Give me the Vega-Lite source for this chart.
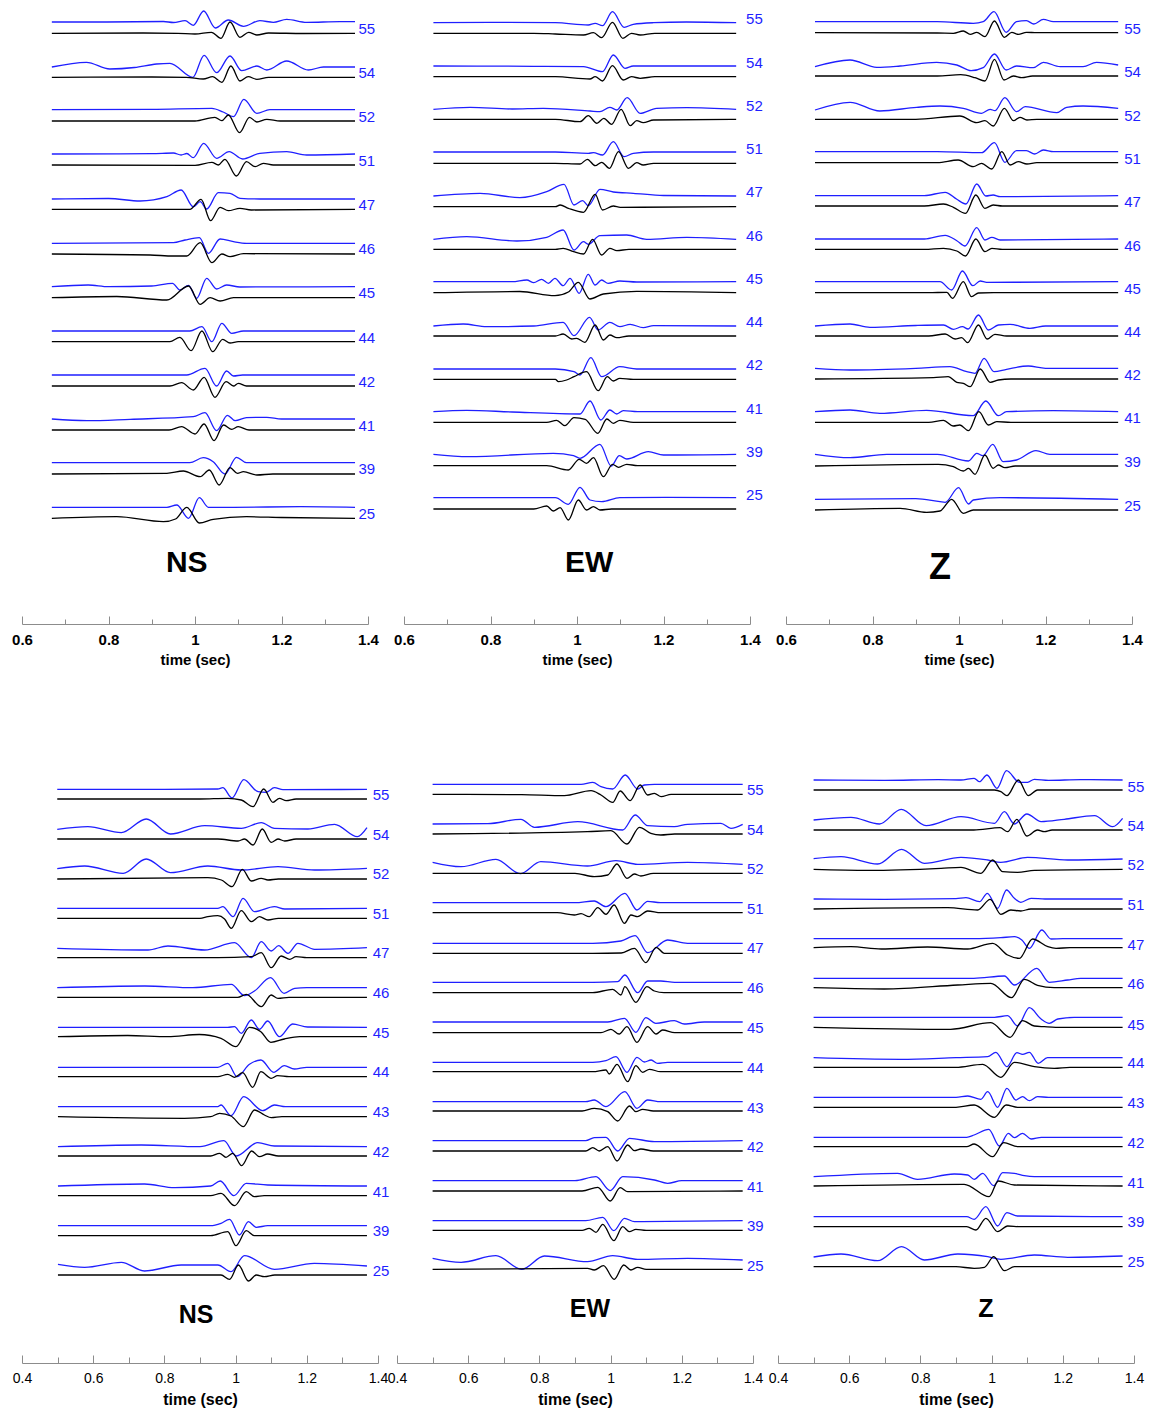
{
"$schema":"https://vega.github.io/schema/vega-lite/v6.json",
"padding":{"left":11,"top":0,"right":5,"bottom":5},
"config":{"view":{"stroke":null},"font":"Liberation Sans","axis":{"labelFont":"Liberation Sans","titleFont":"Liberation Sans"}},
"datasets":{
"tl":[
{"s":"55","c":"b","t":0.669,"y":22},{"s":"55","c":"b","t":0.796,"y":22},{"s":"55","c":"b","t":0.927,"y":21.5},{"s":"55","c":"b","t":0.95,"y":22.5},{"s":"55","c":"b","t":0.977,"y":20.7},{"s":"55","c":"b","t":0.996,"y":25.3},{"s":"55","c":"b","t":1.02,"y":11},{"s":"55","c":"b","t":1.047,"y":28},{"s":"55","c":"b","t":1.077,"y":20},{"s":"55","c":"b","t":1.112,"y":26.3},{"s":"55","c":"b","t":1.15,"y":20.7},{"s":"55","c":"b","t":1.181,"y":22.3},{"s":"55","c":"b","t":1.212,"y":19.3},{"s":"55","c":"b","t":1.258,"y":22.3},{"s":"55","c":"b","t":1.335,"y":21.7},{"s":"55","c":"b","t":1.37,"y":21.7},
{"s":"55","c":"k","t":0.669,"y":33.3},{"s":"55","c":"k","t":0.88,"y":33},{"s":"55","c":"k","t":0.96,"y":33.3},{"s":"55","c":"k","t":1.0,"y":34},{"s":"55","c":"k","t":1.038,"y":32.3},{"s":"55","c":"k","t":1.06,"y":38.3},{"s":"55","c":"k","t":1.081,"y":22},{"s":"55","c":"k","t":1.104,"y":37.3},{"s":"55","c":"k","t":1.124,"y":32.3},{"s":"55","c":"k","t":1.143,"y":35},{"s":"55","c":"k","t":1.17,"y":33},{"s":"55","c":"k","t":1.25,"y":33.5},{"s":"55","c":"k","t":1.37,"y":33.3},
{"s":"54","c":"b","t":0.669,"y":67},{"s":"54","c":"b","t":0.749,"y":62.3},{"s":"54","c":"b","t":0.803,"y":69},{"s":"54","c":"b","t":0.86,"y":67.5},{"s":"54","c":"b","t":0.911,"y":64},{"s":"54","c":"b","t":0.942,"y":63.3},{"s":"54","c":"b","t":0.995,"y":77.3},{"s":"54","c":"b","t":1.021,"y":55.3},{"s":"54","c":"b","t":1.05,"y":72.7},{"s":"54","c":"b","t":1.081,"y":56},{"s":"54","c":"b","t":1.108,"y":70.7},{"s":"54","c":"b","t":1.143,"y":66},{"s":"54","c":"b","t":1.166,"y":70},{"s":"54","c":"b","t":1.212,"y":61},{"s":"54","c":"b","t":1.262,"y":70},{"s":"54","c":"b","t":1.297,"y":67},{"s":"54","c":"b","t":1.37,"y":67},
{"s":"54","c":"k","t":0.669,"y":77.3},{"s":"54","c":"k","t":0.9,"y":77},{"s":"54","c":"k","t":0.98,"y":77.3},{"s":"54","c":"k","t":1.019,"y":79},{"s":"54","c":"k","t":1.041,"y":76.7},{"s":"54","c":"k","t":1.062,"y":82.3},{"s":"54","c":"k","t":1.083,"y":66},{"s":"54","c":"k","t":1.104,"y":81},{"s":"54","c":"k","t":1.123,"y":76.7},{"s":"54","c":"k","t":1.143,"y":79.3},{"s":"54","c":"k","t":1.17,"y":77.3},{"s":"54","c":"k","t":1.37,"y":77.3},
{"s":"52","c":"b","t":0.669,"y":109.7},{"s":"52","c":"b","t":0.9,"y":109.3},{"s":"52","c":"b","t":1.039,"y":108.3},{"s":"52","c":"b","t":1.065,"y":112},{"s":"52","c":"b","t":1.089,"y":116.7},{"s":"52","c":"b","t":1.113,"y":99.3},{"s":"52","c":"b","t":1.143,"y":113.3},{"s":"52","c":"b","t":1.173,"y":109.7},{"s":"52","c":"b","t":1.37,"y":109.7},
{"s":"52","c":"k","t":0.669,"y":121},{"s":"52","c":"k","t":1.0,"y":121},{"s":"52","c":"k","t":1.046,"y":117.3},{"s":"52","c":"k","t":1.062,"y":120.7},{"s":"52","c":"k","t":1.077,"y":115},{"s":"52","c":"k","t":1.103,"y":132.7},{"s":"52","c":"k","t":1.126,"y":117.3},{"s":"52","c":"k","t":1.143,"y":122},{"s":"52","c":"k","t":1.166,"y":119.3},{"s":"52","c":"k","t":1.197,"y":121},{"s":"52","c":"k","t":1.37,"y":121},
{"s":"51","c":"b","t":0.669,"y":154},{"s":"51","c":"b","t":0.9,"y":153.7},{"s":"51","c":"b","t":0.95,"y":153},{"s":"51","c":"b","t":0.968,"y":155},{"s":"51","c":"b","t":0.981,"y":153.5},{"s":"51","c":"b","t":0.996,"y":157.7},{"s":"51","c":"b","t":1.02,"y":143.3},{"s":"51","c":"b","t":1.05,"y":158.3},{"s":"51","c":"b","t":1.079,"y":151.7},{"s":"51","c":"b","t":1.11,"y":159},{"s":"51","c":"b","t":1.15,"y":153.3},{"s":"51","c":"b","t":1.212,"y":151.7},{"s":"51","c":"b","t":1.258,"y":155},{"s":"51","c":"b","t":1.37,"y":154},
{"s":"51","c":"k","t":0.669,"y":165},{"s":"51","c":"k","t":1.0,"y":165.3},{"s":"51","c":"k","t":1.039,"y":162.3},{"s":"51","c":"k","t":1.054,"y":165},{"s":"51","c":"k","t":1.069,"y":159.3},{"s":"51","c":"k","t":1.096,"y":176},{"s":"51","c":"k","t":1.119,"y":161.7},{"s":"51","c":"k","t":1.139,"y":166.7},{"s":"51","c":"k","t":1.158,"y":163.3},{"s":"51","c":"k","t":1.181,"y":165},{"s":"51","c":"k","t":1.37,"y":165},
{"s":"47","c":"b","t":0.669,"y":199},{"s":"47","c":"b","t":0.8,"y":198.5},{"s":"47","c":"b","t":0.873,"y":201},{"s":"47","c":"b","t":0.935,"y":196.7},{"s":"47","c":"b","t":0.968,"y":190},{"s":"47","c":"b","t":0.996,"y":206.7},{"s":"47","c":"b","t":1.012,"y":201.7},{"s":"47","c":"b","t":1.027,"y":209},{"s":"47","c":"b","t":1.054,"y":192.7},{"s":"47","c":"b","t":1.081,"y":193.3},{"s":"47","c":"b","t":1.104,"y":198.3},{"s":"47","c":"b","t":1.15,"y":199},{"s":"47","c":"b","t":1.37,"y":199},
{"s":"47","c":"k","t":0.669,"y":209.3},{"s":"47","c":"k","t":0.988,"y":209.3},{"s":"47","c":"k","t":1.014,"y":199.3},{"s":"47","c":"k","t":1.036,"y":220.7},{"s":"47","c":"k","t":1.058,"y":207.3},{"s":"47","c":"k","t":1.077,"y":210.7},{"s":"47","c":"k","t":1.104,"y":208.3},{"s":"47","c":"k","t":1.13,"y":210},{"s":"47","c":"k","t":1.37,"y":209.3},
{"s":"46","c":"b","t":0.669,"y":243.3},{"s":"46","c":"b","t":0.95,"y":242.7},{"s":"46","c":"b","t":0.977,"y":240},{"s":"46","c":"b","t":1.01,"y":237.7},{"s":"46","c":"b","t":1.031,"y":253.3},{"s":"46","c":"b","t":1.058,"y":239},{"s":"46","c":"b","t":1.089,"y":241.7},{"s":"46","c":"b","t":1.119,"y":243.3},{"s":"46","c":"b","t":1.37,"y":243.3},
{"s":"46","c":"k","t":0.669,"y":254},{"s":"46","c":"k","t":0.896,"y":255},{"s":"46","c":"k","t":0.95,"y":256},{"s":"46","c":"k","t":0.981,"y":256},{"s":"46","c":"k","t":1.012,"y":242.7},{"s":"46","c":"k","t":1.039,"y":262.7},{"s":"46","c":"k","t":1.062,"y":254},{"s":"46","c":"k","t":1.081,"y":256.7},{"s":"46","c":"k","t":1.112,"y":253.7},{"s":"46","c":"k","t":1.37,"y":254},
{"s":"45","c":"b","t":0.669,"y":286.7},{"s":"45","c":"b","t":0.753,"y":285},{"s":"45","c":"b","t":0.8,"y":286.7},{"s":"45","c":"b","t":0.9,"y":286},{"s":"45","c":"b","t":0.948,"y":283.3},{"s":"45","c":"b","t":0.965,"y":290},{"s":"45","c":"b","t":0.985,"y":285.3},{"s":"45","c":"b","t":1.004,"y":298.3},{"s":"45","c":"b","t":1.027,"y":278.3},{"s":"45","c":"b","t":1.05,"y":289},{"s":"45","c":"b","t":1.073,"y":285},{"s":"45","c":"b","t":1.104,"y":287},{"s":"45","c":"b","t":1.37,"y":286.7},
{"s":"45","c":"k","t":0.669,"y":297.7},{"s":"45","c":"k","t":0.819,"y":296.5},{"s":"45","c":"k","t":0.935,"y":300},{"s":"45","c":"k","t":0.985,"y":286},{"s":"45","c":"k","t":1.012,"y":304.3},{"s":"45","c":"k","t":1.035,"y":297.7},{"s":"45","c":"k","t":1.058,"y":301},{"s":"45","c":"k","t":1.089,"y":297.7},{"s":"45","c":"k","t":1.37,"y":297.7},
{"s":"44","c":"b","t":0.669,"y":331},{"s":"44","c":"b","t":0.988,"y":331},{"s":"44","c":"b","t":1.016,"y":326.7},{"s":"44","c":"b","t":1.039,"y":341.7},{"s":"44","c":"b","t":1.062,"y":323.3},{"s":"44","c":"b","t":1.085,"y":333.3},{"s":"44","c":"b","t":1.112,"y":331},{"s":"44","c":"b","t":1.37,"y":331},
{"s":"44","c":"k","t":0.669,"y":341.7},{"s":"44","c":"k","t":0.942,"y":341.7},{"s":"44","c":"k","t":0.965,"y":337.3},{"s":"44","c":"k","t":0.991,"y":350.7},{"s":"44","c":"k","t":1.016,"y":331},{"s":"44","c":"k","t":1.041,"y":351.7},{"s":"44","c":"k","t":1.064,"y":339.3},{"s":"44","c":"k","t":1.081,"y":343},{"s":"44","c":"k","t":1.1,"y":341.7},{"s":"44","c":"k","t":1.37,"y":341.7},
{"s":"42","c":"b","t":0.669,"y":375},{"s":"42","c":"b","t":0.981,"y":375},{"s":"42","c":"b","t":1.023,"y":368.3},{"s":"42","c":"b","t":1.05,"y":386},{"s":"42","c":"b","t":1.073,"y":371},{"s":"42","c":"b","t":1.089,"y":376},{"s":"42","c":"b","t":1.11,"y":375},{"s":"42","c":"b","t":1.37,"y":375},
{"s":"42","c":"k","t":0.669,"y":386},{"s":"42","c":"k","t":0.942,"y":386},{"s":"42","c":"k","t":0.969,"y":382.7},{"s":"42","c":"k","t":0.996,"y":390},{"s":"42","c":"k","t":1.021,"y":377.3},{"s":"42","c":"k","t":1.046,"y":397.3},{"s":"42","c":"k","t":1.072,"y":381.7},{"s":"42","c":"k","t":1.089,"y":386},{"s":"42","c":"k","t":1.1,"y":383.3},{"s":"42","c":"k","t":1.119,"y":386},{"s":"42","c":"k","t":1.37,"y":386},
{"s":"41","c":"b","t":0.669,"y":419},{"s":"41","c":"b","t":0.75,"y":420.7},{"s":"41","c":"b","t":0.85,"y":419.3},{"s":"41","c":"b","t":0.996,"y":416.7},{"s":"41","c":"b","t":1.023,"y":412.7},{"s":"41","c":"b","t":1.05,"y":430.7},{"s":"41","c":"b","t":1.075,"y":415.3},{"s":"41","c":"b","t":1.093,"y":420.7},{"s":"41","c":"b","t":1.119,"y":417.7},{"s":"41","c":"b","t":1.166,"y":417.3},{"s":"41","c":"b","t":1.2,"y":419},{"s":"41","c":"b","t":1.37,"y":419},
{"s":"41","c":"k","t":0.669,"y":430},{"s":"41","c":"k","t":0.94,"y":430},{"s":"41","c":"k","t":0.969,"y":426.7},{"s":"41","c":"k","t":1.0,"y":434},{"s":"41","c":"k","t":1.021,"y":424},{"s":"41","c":"k","t":1.044,"y":440.7},{"s":"41","c":"k","t":1.066,"y":425},{"s":"41","c":"k","t":1.085,"y":429.3},{"s":"41","c":"k","t":1.1,"y":426.7},{"s":"41","c":"k","t":1.125,"y":430},{"s":"41","c":"k","t":1.37,"y":430},
{"s":"39","c":"b","t":0.669,"y":462.7},{"s":"39","c":"b","t":0.988,"y":462.7},{"s":"39","c":"b","t":1.019,"y":457.7},{"s":"39","c":"b","t":1.042,"y":461.7},{"s":"39","c":"b","t":1.069,"y":474},{"s":"39","c":"b","t":1.096,"y":457.3},{"s":"39","c":"b","t":1.119,"y":462.7},{"s":"39","c":"b","t":1.37,"y":462.7},
{"s":"39","c":"k","t":0.669,"y":474},{"s":"39","c":"k","t":0.935,"y":473.3},{"s":"39","c":"k","t":0.973,"y":471},{"s":"39","c":"k","t":1.012,"y":476.7},{"s":"39","c":"k","t":1.033,"y":470},{"s":"39","c":"k","t":1.056,"y":485},{"s":"39","c":"k","t":1.081,"y":467.7},{"s":"39","c":"k","t":1.098,"y":473.3},{"s":"39","c":"k","t":1.112,"y":471.7},{"s":"39","c":"k","t":1.143,"y":475},{"s":"39","c":"k","t":1.18,"y":474},{"s":"39","c":"k","t":1.37,"y":474},
{"s":"25","c":"b","t":0.669,"y":507.3},{"s":"25","c":"b","t":0.935,"y":507.3},{"s":"25","c":"b","t":0.958,"y":505},{"s":"25","c":"b","t":0.985,"y":518.3},{"s":"25","c":"b","t":1.01,"y":497.7},{"s":"25","c":"b","t":1.031,"y":507.3},{"s":"25","c":"b","t":1.089,"y":507.3},{"s":"25","c":"b","t":1.245,"y":506.7},{"s":"25","c":"b","t":1.37,"y":507.3},
{"s":"25","c":"k","t":0.669,"y":518.3},{"s":"25","c":"k","t":0.819,"y":516.7},{"s":"25","c":"k","t":0.927,"y":521.7},{"s":"25","c":"k","t":0.955,"y":519},{"s":"25","c":"k","t":0.981,"y":507.3},{"s":"25","c":"k","t":1.01,"y":523},{"s":"25","c":"k","t":1.042,"y":519.3},{"s":"25","c":"k","t":1.119,"y":516.7},{"s":"25","c":"k","t":1.2,"y":517.5},{"s":"25","c":"k","t":1.37,"y":518.3}
],
"tlL":[{"s":"55","y":28.7},{"s":"54","y":72.7},{"s":"52","y":116.7},{"s":"51","y":161},{"s":"47","y":205},{"s":"46","y":249},{"s":"45","y":293.3},{"s":"44","y":337.7},{"s":"42","y":381.7},{"s":"41","y":425.7},{"s":"39","y":469.3},{"s":"25","y":514.3}],
"tm":[
{"s":"55","c":"b","t":0.668,"y":22.7},{"s":"55","c":"b","t":0.8,"y":22.3},{"s":"55","c":"b","t":0.95,"y":22.7},{"s":"55","c":"b","t":1.026,"y":25},{"s":"55","c":"b","t":1.042,"y":23.3},{"s":"55","c":"b","t":1.059,"y":25.7},{"s":"55","c":"b","t":1.082,"y":11.7},{"s":"55","c":"b","t":1.109,"y":27.3},{"s":"55","c":"b","t":1.13,"y":24.3},{"s":"55","c":"b","t":1.177,"y":22.7},{"s":"55","c":"b","t":1.253,"y":22},{"s":"55","c":"b","t":1.368,"y":22.7},
{"s":"55","c":"k","t":0.668,"y":33.3},{"s":"55","c":"k","t":0.9,"y":33.3},{"s":"55","c":"k","t":0.95,"y":34},{"s":"55","c":"k","t":1.015,"y":35},{"s":"55","c":"k","t":1.038,"y":32.7},{"s":"55","c":"k","t":1.057,"y":37.7},{"s":"55","c":"k","t":1.082,"y":22.3},{"s":"55","c":"k","t":1.106,"y":38.3},{"s":"55","c":"k","t":1.126,"y":33.3},{"s":"55","c":"k","t":1.146,"y":35},{"s":"55","c":"k","t":1.18,"y":33.3},{"s":"55","c":"k","t":1.368,"y":33.3},
{"s":"54","c":"b","t":0.668,"y":66},{"s":"54","c":"b","t":0.9,"y":66.3},{"s":"54","c":"b","t":1.015,"y":66.7},{"s":"54","c":"b","t":1.059,"y":71.7},{"s":"54","c":"b","t":1.084,"y":55},{"s":"54","c":"b","t":1.111,"y":68.3},{"s":"54","c":"b","t":1.13,"y":66},{"s":"54","c":"b","t":1.368,"y":66},
{"s":"54","c":"k","t":0.668,"y":76.7},{"s":"54","c":"k","t":0.95,"y":76.7},{"s":"54","c":"k","t":1.03,"y":79},{"s":"54","c":"k","t":1.042,"y":76.7},{"s":"54","c":"k","t":1.059,"y":81},{"s":"54","c":"k","t":1.082,"y":65.7},{"s":"54","c":"k","t":1.107,"y":80},{"s":"54","c":"k","t":1.126,"y":76.7},{"s":"54","c":"k","t":1.146,"y":78.3},{"s":"54","c":"k","t":1.18,"y":76.7},{"s":"54","c":"k","t":1.368,"y":76.7},
{"s":"52","c":"b","t":0.668,"y":109.3},{"s":"52","c":"b","t":0.753,"y":107.3},{"s":"52","c":"b","t":0.85,"y":109},{"s":"52","c":"b","t":0.922,"y":108.3},{"s":"52","c":"b","t":1.03,"y":111},{"s":"52","c":"b","t":1.053,"y":111.7},{"s":"52","c":"b","t":1.076,"y":107.3},{"s":"52","c":"b","t":1.092,"y":110},{"s":"52","c":"b","t":1.116,"y":97.7},{"s":"52","c":"b","t":1.146,"y":113.3},{"s":"52","c":"b","t":1.184,"y":108.3},{"s":"52","c":"b","t":1.254,"y":107.7},{"s":"52","c":"b","t":1.368,"y":109.3},
{"s":"52","c":"k","t":0.668,"y":119.3},{"s":"52","c":"k","t":0.95,"y":119.3},{"s":"52","c":"k","t":1.007,"y":121.7},{"s":"52","c":"k","t":1.026,"y":115.7},{"s":"52","c":"k","t":1.046,"y":123.3},{"s":"52","c":"k","t":1.062,"y":118.3},{"s":"52","c":"k","t":1.08,"y":124.3},{"s":"52","c":"k","t":1.102,"y":109.3},{"s":"52","c":"k","t":1.123,"y":125.7},{"s":"52","c":"k","t":1.138,"y":120.7},{"s":"52","c":"k","t":1.153,"y":122.7},{"s":"52","c":"k","t":1.177,"y":120},{"s":"52","c":"k","t":1.368,"y":119.3},
{"s":"51","c":"b","t":0.668,"y":152},{"s":"51","c":"b","t":0.95,"y":152},{"s":"51","c":"b","t":1.026,"y":153.3},{"s":"51","c":"b","t":1.038,"y":152.7},{"s":"51","c":"b","t":1.059,"y":155},{"s":"51","c":"b","t":1.084,"y":141.7},{"s":"51","c":"b","t":1.109,"y":156.7},{"s":"51","c":"b","t":1.13,"y":153.3},{"s":"51","c":"b","t":1.177,"y":152},{"s":"51","c":"b","t":1.368,"y":152},
{"s":"51","c":"k","t":0.668,"y":163.3},{"s":"51","c":"k","t":0.95,"y":163.3},{"s":"51","c":"k","t":1.007,"y":164},{"s":"51","c":"k","t":1.024,"y":159.3},{"s":"51","c":"k","t":1.042,"y":165.7},{"s":"51","c":"k","t":1.057,"y":162.3},{"s":"51","c":"k","t":1.075,"y":168.3},{"s":"51","c":"k","t":1.096,"y":151.7},{"s":"51","c":"k","t":1.119,"y":168.3},{"s":"51","c":"k","t":1.138,"y":162.7},{"s":"51","c":"k","t":1.153,"y":165},{"s":"51","c":"k","t":1.177,"y":163.3},{"s":"51","c":"k","t":1.368,"y":163.3},
{"s":"47","c":"b","t":0.668,"y":196},{"s":"47","c":"b","t":0.776,"y":193.3},{"s":"47","c":"b","t":0.868,"y":197.7},{"s":"47","c":"b","t":0.93,"y":191.7},{"s":"47","c":"b","t":0.97,"y":184.3},{"s":"47","c":"b","t":0.993,"y":205},{"s":"47","c":"b","t":1.013,"y":200.7},{"s":"47","c":"b","t":1.026,"y":205.7},{"s":"47","c":"b","t":1.053,"y":189.3},{"s":"47","c":"b","t":1.084,"y":192},{"s":"47","c":"b","t":1.13,"y":193.3},{"s":"47","c":"b","t":1.2,"y":195.5},{"s":"47","c":"b","t":1.368,"y":196},
{"s":"47","c":"k","t":0.668,"y":206.7},{"s":"47","c":"k","t":0.95,"y":206.7},{"s":"47","c":"k","t":0.961,"y":205},{"s":"47","c":"k","t":0.98,"y":208.3},{"s":"47","c":"k","t":1.015,"y":212.3},{"s":"47","c":"k","t":1.042,"y":194.3},{"s":"47","c":"k","t":1.059,"y":210},{"s":"47","c":"k","t":1.084,"y":206},{"s":"47","c":"k","t":1.1,"y":207.3},{"s":"47","c":"k","t":1.368,"y":206.7},
{"s":"46","c":"b","t":0.668,"y":239.3},{"s":"46","c":"b","t":0.745,"y":236.7},{"s":"46","c":"b","t":0.861,"y":241},{"s":"46","c":"b","t":0.93,"y":237.3},{"s":"46","c":"b","t":0.968,"y":230},{"s":"46","c":"b","t":0.993,"y":250},{"s":"46","c":"b","t":1.015,"y":241.7},{"s":"46","c":"b","t":1.026,"y":244.3},{"s":"46","c":"b","t":1.053,"y":235.7},{"s":"46","c":"b","t":1.115,"y":235},{"s":"46","c":"b","t":1.161,"y":239.3},{"s":"46","c":"b","t":1.254,"y":237.3},{"s":"46","c":"b","t":1.368,"y":239.3},
{"s":"46","c":"k","t":0.668,"y":249.3},{"s":"46","c":"k","t":0.95,"y":249.3},{"s":"46","c":"k","t":0.968,"y":248.3},{"s":"46","c":"k","t":0.992,"y":251.7},{"s":"46","c":"k","t":1.015,"y":254},{"s":"46","c":"k","t":1.036,"y":239.3},{"s":"46","c":"k","t":1.057,"y":255},{"s":"46","c":"k","t":1.076,"y":248.3},{"s":"46","c":"k","t":1.092,"y":250.7},{"s":"46","c":"k","t":1.12,"y":249.3},{"s":"46","c":"k","t":1.368,"y":249.3},
{"s":"45","c":"b","t":0.668,"y":281.7},{"s":"45","c":"b","t":0.85,"y":281.7},{"s":"45","c":"b","t":0.884,"y":280},{"s":"45","c":"b","t":0.9,"y":282.7},{"s":"45","c":"b","t":0.918,"y":279.3},{"s":"45","c":"b","t":0.934,"y":283.3},{"s":"45","c":"b","t":0.949,"y":278.3},{"s":"45","c":"b","t":0.968,"y":285.7},{"s":"45","c":"b","t":0.984,"y":278.3},{"s":"45","c":"b","t":1.005,"y":293.3},{"s":"45","c":"b","t":1.026,"y":274.3},{"s":"45","c":"b","t":1.042,"y":285},{"s":"45","c":"b","t":1.057,"y":280},{"s":"45","c":"b","t":1.072,"y":283.3},{"s":"45","c":"b","t":1.099,"y":281},{"s":"45","c":"b","t":1.138,"y":282},{"s":"45","c":"b","t":1.368,"y":281.7},
{"s":"45","c":"k","t":0.668,"y":292.7},{"s":"45","c":"k","t":0.868,"y":291.5},{"s":"45","c":"k","t":0.949,"y":295.7},{"s":"45","c":"k","t":0.98,"y":292},{"s":"45","c":"k","t":1.003,"y":282.3},{"s":"45","c":"k","t":1.03,"y":299},{"s":"45","c":"k","t":1.061,"y":294},{"s":"45","c":"k","t":1.138,"y":291.3},{"s":"45","c":"k","t":1.368,"y":292.7},
{"s":"44","c":"b","t":0.668,"y":326},{"s":"44","c":"b","t":0.737,"y":324},{"s":"44","c":"b","t":0.791,"y":326.7},{"s":"44","c":"b","t":0.9,"y":326},{"s":"44","c":"b","t":0.968,"y":322.3},{"s":"44","c":"b","t":0.993,"y":335.7},{"s":"44","c":"b","t":1.029,"y":317.3},{"s":"44","c":"b","t":1.049,"y":330},{"s":"44","c":"b","t":1.076,"y":322.3},{"s":"44","c":"b","t":1.099,"y":326.7},{"s":"44","c":"b","t":1.123,"y":324.3},{"s":"44","c":"b","t":1.153,"y":327.7},{"s":"44","c":"b","t":1.177,"y":325.7},{"s":"44","c":"b","t":1.368,"y":326},
{"s":"44","c":"k","t":0.668,"y":336},{"s":"44","c":"k","t":0.95,"y":336},{"s":"44","c":"k","t":0.968,"y":334},{"s":"44","c":"k","t":0.988,"y":339},{"s":"44","c":"k","t":0.999,"y":338.3},{"s":"44","c":"k","t":1.018,"y":342.3},{"s":"44","c":"k","t":1.042,"y":325},{"s":"44","c":"k","t":1.061,"y":340},{"s":"44","c":"k","t":1.076,"y":335},{"s":"44","c":"k","t":1.092,"y":337.7},{"s":"44","c":"k","t":1.12,"y":336},{"s":"44","c":"k","t":1.368,"y":336},
{"s":"42","c":"b","t":0.668,"y":369},{"s":"42","c":"b","t":0.95,"y":369},{"s":"42","c":"b","t":0.993,"y":371.7},{"s":"42","c":"b","t":1.007,"y":375},{"s":"42","c":"b","t":1.032,"y":357.7},{"s":"42","c":"b","t":1.057,"y":376.7},{"s":"42","c":"b","t":1.099,"y":366.7},{"s":"42","c":"b","t":1.138,"y":369},{"s":"42","c":"b","t":1.368,"y":369},
{"s":"42","c":"k","t":0.668,"y":379.3},{"s":"42","c":"k","t":0.95,"y":379.3},{"s":"42","c":"k","t":0.957,"y":381.7},{"s":"42","c":"k","t":0.976,"y":380},{"s":"42","c":"k","t":0.993,"y":376.7},{"s":"42","c":"k","t":1.022,"y":371.7},{"s":"42","c":"k","t":1.049,"y":390.7},{"s":"42","c":"k","t":1.07,"y":376.7},{"s":"42","c":"k","t":1.084,"y":381},{"s":"42","c":"k","t":1.099,"y":378.3},{"s":"42","c":"k","t":1.13,"y":379.3},{"s":"42","c":"k","t":1.368,"y":379.3},
{"s":"41","c":"b","t":0.668,"y":411.7},{"s":"41","c":"b","t":0.745,"y":410.3},{"s":"41","c":"b","t":0.85,"y":412},{"s":"41","c":"b","t":1.007,"y":414},{"s":"41","c":"b","t":1.03,"y":401},{"s":"41","c":"b","t":1.055,"y":420},{"s":"41","c":"b","t":1.076,"y":410},{"s":"41","c":"b","t":1.092,"y":414},{"s":"41","c":"b","t":1.107,"y":410.7},{"s":"41","c":"b","t":1.14,"y":411.7},{"s":"41","c":"b","t":1.368,"y":411.7},
{"s":"41","c":"k","t":0.668,"y":422.3},{"s":"41","c":"k","t":0.93,"y":422.3},{"s":"41","c":"k","t":0.953,"y":420.3},{"s":"41","c":"k","t":0.972,"y":425.7},{"s":"41","c":"k","t":0.993,"y":417.7},{"s":"41","c":"k","t":1.019,"y":419.3},{"s":"41","c":"k","t":1.048,"y":433.3},{"s":"41","c":"k","t":1.069,"y":419},{"s":"41","c":"k","t":1.084,"y":423.3},{"s":"41","c":"k","t":1.099,"y":420.3},{"s":"41","c":"k","t":1.13,"y":422.3},{"s":"41","c":"k","t":1.368,"y":422.3},
{"s":"39","c":"b","t":0.668,"y":454.3},{"s":"39","c":"b","t":0.749,"y":456.7},{"s":"39","c":"b","t":0.945,"y":453.3},{"s":"39","c":"b","t":0.992,"y":455.7},{"s":"39","c":"b","t":1.007,"y":458.3},{"s":"39","c":"b","t":1.053,"y":444.3},{"s":"39","c":"b","t":1.079,"y":466},{"s":"39","c":"b","t":1.098,"y":455.7},{"s":"39","c":"b","t":1.115,"y":459},{"s":"39","c":"b","t":1.165,"y":451.7},{"s":"39","c":"b","t":1.2,"y":455},{"s":"39","c":"b","t":1.368,"y":454.3},
{"s":"39","c":"k","t":0.668,"y":465.7},{"s":"39","c":"k","t":0.93,"y":465.7},{"s":"39","c":"k","t":0.98,"y":470},{"s":"39","c":"k","t":1.005,"y":459.3},{"s":"39","c":"k","t":1.022,"y":463.3},{"s":"39","c":"k","t":1.038,"y":457.7},{"s":"39","c":"k","t":1.061,"y":476.7},{"s":"39","c":"k","t":1.082,"y":464.3},{"s":"39","c":"k","t":1.096,"y":467.3},{"s":"39","c":"k","t":1.115,"y":464.3},{"s":"39","c":"k","t":1.14,"y":465.7},{"s":"39","c":"k","t":1.368,"y":465.7},
{"s":"25","c":"b","t":0.668,"y":497.7},{"s":"25","c":"b","t":0.95,"y":497.7},{"s":"25","c":"b","t":0.98,"y":504.3},{"s":"25","c":"b","t":1.007,"y":487.3},{"s":"25","c":"b","t":1.03,"y":500},{"s":"25","c":"b","t":1.057,"y":501.7},{"s":"25","c":"b","t":1.099,"y":497.7},{"s":"25","c":"b","t":1.207,"y":497.3},{"s":"25","c":"b","t":1.368,"y":497.7},
{"s":"25","c":"k","t":0.668,"y":509},{"s":"25","c":"k","t":0.9,"y":509},{"s":"25","c":"k","t":0.93,"y":506},{"s":"25","c":"k","t":0.945,"y":511},{"s":"25","c":"k","t":0.961,"y":507.7},{"s":"25","c":"k","t":0.98,"y":520},{"s":"25","c":"k","t":1.003,"y":500},{"s":"25","c":"k","t":1.022,"y":510},{"s":"25","c":"k","t":1.038,"y":506.7},{"s":"25","c":"k","t":1.053,"y":510},{"s":"25","c":"k","t":1.08,"y":509},{"s":"25","c":"k","t":1.368,"y":509}
],
"tmL":[{"s":"55","y":19},{"s":"54","y":63.3},{"s":"52","y":106},{"s":"51","y":149},{"s":"47","y":192.3},{"s":"46","y":235.7},{"s":"45","y":279},{"s":"44","y":322.3},{"s":"42","y":365},{"s":"41","y":409},{"s":"39","y":451.7},{"s":"25","y":495}],
"tr":[
{"s":"55","c":"b","t":0.667,"y":21.7},{"s":"55","c":"b","t":0.95,"y":21.7},{"s":"55","c":"b","t":1.033,"y":23.3},{"s":"55","c":"b","t":1.056,"y":21.7},{"s":"55","c":"b","t":1.081,"y":11.7},{"s":"55","c":"b","t":1.109,"y":32.3},{"s":"55","c":"b","t":1.133,"y":21.7},{"s":"55","c":"b","t":1.156,"y":20.7},{"s":"55","c":"b","t":1.173,"y":24},{"s":"55","c":"b","t":1.195,"y":19.3},{"s":"55","c":"b","t":1.218,"y":21.7},{"s":"55","c":"b","t":1.368,"y":21.7},
{"s":"55","c":"k","t":0.667,"y":32.7},{"s":"55","c":"k","t":0.95,"y":33},{"s":"55","c":"k","t":0.987,"y":33.3},{"s":"55","c":"k","t":1.01,"y":31},{"s":"55","c":"k","t":1.026,"y":34.3},{"s":"55","c":"k","t":1.041,"y":32.3},{"s":"55","c":"k","t":1.06,"y":36.7},{"s":"55","c":"k","t":1.082,"y":21},{"s":"55","c":"k","t":1.105,"y":37.3},{"s":"55","c":"k","t":1.122,"y":32.3},{"s":"55","c":"k","t":1.137,"y":34.3},{"s":"55","c":"k","t":1.156,"y":32.3},{"s":"55","c":"k","t":1.18,"y":32.7},{"s":"55","c":"k","t":1.368,"y":32.7},
{"s":"54","c":"b","t":0.667,"y":66.7},{"s":"54","c":"b","t":0.748,"y":60},{"s":"54","c":"b","t":0.81,"y":67.3},{"s":"54","c":"b","t":0.864,"y":66},{"s":"54","c":"b","t":0.948,"y":62.3},{"s":"54","c":"b","t":0.995,"y":65},{"s":"54","c":"b","t":1.028,"y":70.7},{"s":"54","c":"b","t":1.056,"y":67.7},{"s":"54","c":"b","t":1.082,"y":54},{"s":"54","c":"b","t":1.109,"y":70},{"s":"54","c":"b","t":1.133,"y":66},{"s":"54","c":"b","t":1.172,"y":67.7},{"s":"54","c":"b","t":1.195,"y":62.3},{"s":"54","c":"b","t":1.234,"y":66.7},{"s":"54","c":"b","t":1.287,"y":66.7},{"s":"54","c":"b","t":1.318,"y":62.3},{"s":"54","c":"b","t":1.368,"y":65},
{"s":"54","c":"k","t":0.667,"y":76},{"s":"54","c":"k","t":0.95,"y":76},{"s":"54","c":"k","t":1.004,"y":74.7},{"s":"54","c":"k","t":1.037,"y":77.7},{"s":"54","c":"k","t":1.06,"y":81},{"s":"54","c":"k","t":1.082,"y":59.3},{"s":"54","c":"k","t":1.104,"y":80},{"s":"54","c":"k","t":1.126,"y":76},{"s":"54","c":"k","t":1.145,"y":77.7},{"s":"54","c":"k","t":1.17,"y":76},{"s":"54","c":"k","t":1.368,"y":76},
{"s":"52","c":"b","t":0.667,"y":110},{"s":"52","c":"b","t":0.748,"y":102.3},{"s":"52","c":"b","t":0.817,"y":111},{"s":"52","c":"b","t":0.902,"y":107.3},{"s":"52","c":"b","t":0.956,"y":106},{"s":"52","c":"b","t":1.01,"y":108.3},{"s":"52","c":"b","t":1.052,"y":113.3},{"s":"52","c":"b","t":1.072,"y":109.3},{"s":"52","c":"b","t":1.083,"y":110.7},{"s":"52","c":"b","t":1.106,"y":97.7},{"s":"52","c":"b","t":1.133,"y":111.7},{"s":"52","c":"b","t":1.153,"y":106.7},{"s":"52","c":"b","t":1.226,"y":112.7},{"s":"52","c":"b","t":1.249,"y":107.3},{"s":"52","c":"b","t":1.287,"y":106},{"s":"52","c":"b","t":1.368,"y":108.3},
{"s":"52","c":"k","t":0.667,"y":119.3},{"s":"52","c":"k","t":0.9,"y":119.3},{"s":"52","c":"k","t":1.002,"y":116},{"s":"52","c":"k","t":1.041,"y":122.7},{"s":"52","c":"k","t":1.06,"y":120.7},{"s":"52","c":"k","t":1.079,"y":126},{"s":"52","c":"k","t":1.105,"y":108.3},{"s":"52","c":"k","t":1.126,"y":120.7},{"s":"52","c":"k","t":1.141,"y":117.3},{"s":"52","c":"k","t":1.157,"y":120},{"s":"52","c":"k","t":1.18,"y":119.3},{"s":"52","c":"k","t":1.368,"y":119.3},
{"s":"51","c":"b","t":0.667,"y":151.7},{"s":"51","c":"b","t":0.95,"y":151.7},{"s":"51","c":"b","t":1.052,"y":152.7},{"s":"51","c":"b","t":1.082,"y":142.7},{"s":"51","c":"b","t":1.106,"y":162.3},{"s":"51","c":"b","t":1.133,"y":150.7},{"s":"51","c":"b","t":1.156,"y":150.7},{"s":"51","c":"b","t":1.175,"y":154},{"s":"51","c":"b","t":1.195,"y":150},{"s":"51","c":"b","t":1.218,"y":151.7},{"s":"51","c":"b","t":1.368,"y":151.7},
{"s":"51","c":"k","t":0.667,"y":162.7},{"s":"51","c":"k","t":0.95,"y":162.7},{"s":"51","c":"k","t":0.998,"y":160},{"s":"51","c":"k","t":1.033,"y":166.7},{"s":"51","c":"k","t":1.052,"y":163.3},{"s":"51","c":"k","t":1.076,"y":169},{"s":"51","c":"k","t":1.099,"y":151.7},{"s":"51","c":"k","t":1.118,"y":165},{"s":"51","c":"k","t":1.137,"y":161.7},{"s":"51","c":"k","t":1.157,"y":164},{"s":"51","c":"k","t":1.18,"y":162.7},{"s":"51","c":"k","t":1.368,"y":162.7},
{"s":"47","c":"b","t":0.667,"y":195.7},{"s":"47","c":"b","t":0.92,"y":195.7},{"s":"47","c":"b","t":0.968,"y":192.3},{"s":"47","c":"b","t":0.995,"y":199.3},{"s":"47","c":"b","t":1.016,"y":204},{"s":"47","c":"b","t":1.041,"y":184},{"s":"47","c":"b","t":1.062,"y":196},{"s":"47","c":"b","t":1.079,"y":195},{"s":"47","c":"b","t":1.095,"y":196.7},{"s":"47","c":"b","t":1.368,"y":195.7},
{"s":"47","c":"k","t":0.667,"y":206},{"s":"47","c":"k","t":0.92,"y":206},{"s":"47","c":"k","t":0.964,"y":204},{"s":"47","c":"k","t":0.987,"y":207.3},{"s":"47","c":"k","t":1.015,"y":213.3},{"s":"47","c":"k","t":1.039,"y":195},{"s":"47","c":"k","t":1.06,"y":208.3},{"s":"47","c":"k","t":1.079,"y":205},{"s":"47","c":"k","t":1.1,"y":206},{"s":"47","c":"k","t":1.368,"y":206},
{"s":"46","c":"b","t":0.667,"y":239},{"s":"46","c":"b","t":0.92,"y":239},{"s":"46","c":"b","t":0.968,"y":235.3},{"s":"46","c":"b","t":0.995,"y":240.7},{"s":"46","c":"b","t":1.014,"y":246},{"s":"46","c":"b","t":1.041,"y":227.7},{"s":"46","c":"b","t":1.06,"y":240},{"s":"46","c":"b","t":1.076,"y":237.3},{"s":"46","c":"b","t":1.095,"y":240},{"s":"46","c":"b","t":1.368,"y":239},
{"s":"46","c":"k","t":0.667,"y":249.3},{"s":"46","c":"k","t":0.92,"y":249.3},{"s":"46","c":"k","t":0.964,"y":248.3},{"s":"46","c":"k","t":0.995,"y":251},{"s":"46","c":"k","t":1.015,"y":256},{"s":"46","c":"k","t":1.039,"y":239},{"s":"46","c":"k","t":1.06,"y":251.7},{"s":"46","c":"k","t":1.076,"y":248.3},{"s":"46","c":"k","t":1.1,"y":249.3},{"s":"46","c":"k","t":1.368,"y":249.3},
{"s":"45","c":"b","t":0.667,"y":281.7},{"s":"45","c":"b","t":0.956,"y":281.7},{"s":"45","c":"b","t":0.983,"y":290},{"s":"45","c":"b","t":1.008,"y":271},{"s":"45","c":"b","t":1.032,"y":285.7},{"s":"45","c":"b","t":1.049,"y":281},{"s":"45","c":"b","t":1.064,"y":282.3},{"s":"45","c":"b","t":1.368,"y":281.7},
{"s":"45","c":"k","t":0.667,"y":292.7},{"s":"45","c":"k","t":0.93,"y":292.7},{"s":"45","c":"k","t":0.972,"y":292.3},{"s":"45","c":"k","t":0.985,"y":298.3},{"s":"45","c":"k","t":1.01,"y":281.7},{"s":"45","c":"k","t":1.029,"y":296.7},{"s":"45","c":"k","t":1.045,"y":293},{"s":"45","c":"k","t":1.08,"y":292.7},{"s":"45","c":"k","t":1.368,"y":292.7},
{"s":"44","c":"b","t":0.667,"y":326},{"s":"44","c":"b","t":0.748,"y":324},{"s":"44","c":"b","t":0.794,"y":327.3},{"s":"44","c":"b","t":0.9,"y":325.5},{"s":"44","c":"b","t":0.964,"y":325},{"s":"44","c":"b","t":0.987,"y":329.3},{"s":"44","c":"b","t":1.008,"y":326.7},{"s":"44","c":"b","t":1.021,"y":329},{"s":"44","c":"b","t":1.045,"y":315},{"s":"44","c":"b","t":1.068,"y":330},{"s":"44","c":"b","t":1.091,"y":325},{"s":"44","c":"b","t":1.118,"y":324.3},{"s":"44","c":"b","t":1.164,"y":328.3},{"s":"44","c":"b","t":1.2,"y":326},{"s":"44","c":"b","t":1.368,"y":326},
{"s":"44","c":"k","t":0.667,"y":336},{"s":"44","c":"k","t":0.93,"y":336},{"s":"44","c":"k","t":0.968,"y":334},{"s":"44","c":"k","t":0.991,"y":339},{"s":"44","c":"k","t":1.006,"y":337.7},{"s":"44","c":"k","t":1.02,"y":342.7},{"s":"44","c":"k","t":1.045,"y":325},{"s":"44","c":"k","t":1.065,"y":339},{"s":"44","c":"k","t":1.083,"y":334.3},{"s":"44","c":"k","t":1.11,"y":336},{"s":"44","c":"k","t":1.368,"y":336},
{"s":"42","c":"b","t":0.667,"y":368.3},{"s":"42","c":"b","t":0.748,"y":370},{"s":"42","c":"b","t":0.9,"y":368.3},{"s":"42","c":"b","t":0.979,"y":366.7},{"s":"42","c":"b","t":1.018,"y":371.7},{"s":"42","c":"b","t":1.037,"y":373.3},{"s":"42","c":"b","t":1.058,"y":358.3},{"s":"42","c":"b","t":1.081,"y":371.7},{"s":"42","c":"b","t":1.11,"y":369.3},{"s":"42","c":"b","t":1.16,"y":366},{"s":"42","c":"b","t":1.2,"y":368.3},{"s":"42","c":"b","t":1.368,"y":368.3},
{"s":"42","c":"k","t":0.667,"y":379},{"s":"42","c":"k","t":0.941,"y":377.7},{"s":"42","c":"k","t":0.975,"y":376.7},{"s":"42","c":"k","t":0.995,"y":382.3},{"s":"42","c":"k","t":1.01,"y":383.3},{"s":"42","c":"k","t":1.026,"y":386.7},{"s":"42","c":"k","t":1.049,"y":369},{"s":"42","c":"k","t":1.072,"y":382.3},{"s":"42","c":"k","t":1.091,"y":380},{"s":"42","c":"k","t":1.12,"y":379},{"s":"42","c":"k","t":1.368,"y":379},
{"s":"41","c":"b","t":0.667,"y":411.7},{"s":"41","c":"b","t":0.748,"y":410},{"s":"41","c":"b","t":0.817,"y":413.3},{"s":"41","c":"b","t":0.925,"y":410.3},{"s":"41","c":"b","t":1.033,"y":415.7},{"s":"41","c":"b","t":1.062,"y":401},{"s":"41","c":"b","t":1.091,"y":415.7},{"s":"41","c":"b","t":1.11,"y":411.7},{"s":"41","c":"b","t":1.218,"y":410.7},{"s":"41","c":"b","t":1.368,"y":411.7},
{"s":"41","c":"k","t":0.667,"y":422.3},{"s":"41","c":"k","t":0.93,"y":422.3},{"s":"41","c":"k","t":0.964,"y":420.3},{"s":"41","c":"k","t":0.987,"y":426},{"s":"41","c":"k","t":1.002,"y":425},{"s":"41","c":"k","t":1.022,"y":430.7},{"s":"41","c":"k","t":1.046,"y":411.7},{"s":"41","c":"k","t":1.068,"y":425},{"s":"41","c":"k","t":1.087,"y":421.7},{"s":"41","c":"k","t":1.12,"y":422.3},{"s":"41","c":"k","t":1.368,"y":422.3},
{"s":"39","c":"b","t":0.667,"y":454.3},{"s":"39","c":"b","t":0.748,"y":457.7},{"s":"39","c":"b","t":0.833,"y":454.3},{"s":"39","c":"b","t":0.95,"y":454.3},{"s":"39","c":"b","t":1.022,"y":461},{"s":"39","c":"b","t":1.041,"y":453.3},{"s":"39","c":"b","t":1.055,"y":455.7},{"s":"39","c":"b","t":1.078,"y":444.3},{"s":"39","c":"b","t":1.102,"y":461.7},{"s":"39","c":"b","t":1.133,"y":460},{"s":"39","c":"b","t":1.178,"y":450.7},{"s":"39","c":"b","t":1.21,"y":454.3},{"s":"39","c":"b","t":1.368,"y":454.3},
{"s":"39","c":"k","t":0.667,"y":466},{"s":"39","c":"k","t":0.952,"y":464.3},{"s":"39","c":"k","t":0.987,"y":466.7},{"s":"39","c":"k","t":1.01,"y":471},{"s":"39","c":"k","t":1.022,"y":468.3},{"s":"39","c":"k","t":1.037,"y":474.3},{"s":"39","c":"k","t":1.06,"y":455},{"s":"39","c":"k","t":1.079,"y":468.3},{"s":"39","c":"k","t":1.091,"y":465},{"s":"39","c":"k","t":1.106,"y":467.7},{"s":"39","c":"k","t":1.13,"y":466},{"s":"39","c":"k","t":1.368,"y":466},
{"s":"25","c":"b","t":0.667,"y":499.3},{"s":"25","c":"b","t":0.9,"y":498.7},{"s":"25","c":"b","t":0.956,"y":501.7},{"s":"25","c":"b","t":0.968,"y":502.3},{"s":"25","c":"b","t":0.999,"y":487.7},{"s":"25","c":"b","t":1.022,"y":504},{"s":"25","c":"b","t":1.033,"y":500},{"s":"25","c":"b","t":1.095,"y":497.7},{"s":"25","c":"b","t":1.368,"y":499.3},
{"s":"25","c":"k","t":0.667,"y":510},{"s":"25","c":"k","t":0.864,"y":508.3},{"s":"25","c":"k","t":0.925,"y":512.3},{"s":"25","c":"k","t":0.956,"y":511},{"s":"25","c":"k","t":0.983,"y":499.3},{"s":"25","c":"k","t":1.01,"y":513.3},{"s":"25","c":"k","t":1.033,"y":510},{"s":"25","c":"k","t":1.368,"y":510}
],
"trL":[{"s":"55","y":29},{"s":"54","y":72.3},{"s":"52","y":115.7},{"s":"51","y":159},{"s":"47","y":201.7},{"s":"46","y":245.7},{"s":"45","y":289.3},{"s":"44","y":331.7},{"s":"42","y":375},{"s":"41","y":418.3},{"s":"39","y":461.7},{"s":"25","y":505.7}],
"bl":[
{"s":"55","c":"b","t":0.499,"y":29.3},{"s":"55","c":"b","t":0.8,"y":29.3},{"s":"55","c":"b","t":0.95,"y":29},{"s":"55","c":"b","t":0.964,"y":27.7},{"s":"55","c":"b","t":0.99,"y":38},{"s":"55","c":"b","t":1.023,"y":19.7},{"s":"55","c":"b","t":1.063,"y":31.7},{"s":"55","c":"b","t":1.086,"y":32.3},{"s":"55","c":"b","t":1.109,"y":27.7},{"s":"55","c":"b","t":1.133,"y":29.7},{"s":"55","c":"b","t":1.369,"y":29.3},
{"s":"55","c":"k","t":0.499,"y":39},{"s":"55","c":"k","t":0.9,"y":39},{"s":"55","c":"k","t":0.978,"y":38.3},{"s":"55","c":"k","t":1.016,"y":40},{"s":"55","c":"k","t":1.049,"y":46.7},{"s":"55","c":"k","t":1.079,"y":29},{"s":"55","c":"k","t":1.105,"y":42.3},{"s":"55","c":"k","t":1.123,"y":38.3},{"s":"55","c":"k","t":1.142,"y":40.7},{"s":"55","c":"k","t":1.17,"y":39},{"s":"55","c":"k","t":1.369,"y":39},
{"s":"54","c":"b","t":0.499,"y":69.3},{"s":"54","c":"b","t":0.585,"y":66.7},{"s":"54","c":"b","t":0.679,"y":72.7},{"s":"54","c":"b","t":0.749,"y":59},{"s":"54","c":"b","t":0.817,"y":74},{"s":"54","c":"b","t":0.913,"y":65.7},{"s":"54","c":"b","t":1.016,"y":68.3},{"s":"54","c":"b","t":1.072,"y":62.7},{"s":"54","c":"b","t":1.109,"y":68.3},{"s":"54","c":"b","t":1.203,"y":69},{"s":"54","c":"b","t":1.278,"y":64.3},{"s":"54","c":"b","t":1.342,"y":76.7},{"s":"54","c":"b","t":1.369,"y":67.7},
{"s":"54","c":"k","t":0.499,"y":79},{"s":"54","c":"k","t":0.95,"y":79},{"s":"54","c":"k","t":1.007,"y":81},{"s":"54","c":"k","t":1.025,"y":79},{"s":"54","c":"k","t":1.049,"y":85},{"s":"54","c":"k","t":1.075,"y":69},{"s":"54","c":"k","t":1.1,"y":82.3},{"s":"54","c":"k","t":1.119,"y":79},{"s":"54","c":"k","t":1.138,"y":81},{"s":"54","c":"k","t":1.17,"y":79},{"s":"54","c":"k","t":1.369,"y":79},
{"s":"52","c":"b","t":0.499,"y":108.7},{"s":"52","c":"b","t":0.576,"y":106},{"s":"52","c":"b","t":0.684,"y":113.3},{"s":"52","c":"b","t":0.749,"y":99},{"s":"52","c":"b","t":0.817,"y":112.7},{"s":"52","c":"b","t":0.922,"y":106},{"s":"52","c":"b","t":1.016,"y":110},{"s":"52","c":"b","t":1.119,"y":106.7},{"s":"52","c":"b","t":1.222,"y":110},{"s":"52","c":"b","t":1.369,"y":108.3},
{"s":"52","c":"k","t":0.499,"y":119},{"s":"52","c":"k","t":0.922,"y":117.7},{"s":"52","c":"k","t":0.96,"y":120},{"s":"52","c":"k","t":0.99,"y":126.7},{"s":"52","c":"k","t":1.019,"y":109.3},{"s":"52","c":"k","t":1.044,"y":121},{"s":"52","c":"k","t":1.072,"y":118.3},{"s":"52","c":"k","t":1.091,"y":120},{"s":"52","c":"k","t":1.12,"y":119},{"s":"52","c":"k","t":1.369,"y":119},
{"s":"51","c":"b","t":0.499,"y":148.3},{"s":"51","c":"b","t":0.95,"y":148.3},{"s":"51","c":"b","t":0.964,"y":146.7},{"s":"51","c":"b","t":0.993,"y":156.7},{"s":"51","c":"b","t":1.021,"y":138.3},{"s":"51","c":"b","t":1.053,"y":151.7},{"s":"51","c":"b","t":1.109,"y":146.7},{"s":"51","c":"b","t":1.138,"y":149},{"s":"51","c":"b","t":1.369,"y":148.3},
{"s":"51","c":"k","t":0.499,"y":158.3},{"s":"51","c":"k","t":0.9,"y":158.3},{"s":"51","c":"k","t":0.922,"y":156.7},{"s":"51","c":"k","t":0.95,"y":155.7},{"s":"51","c":"k","t":0.969,"y":159},{"s":"51","c":"k","t":0.988,"y":168.3},{"s":"51","c":"k","t":1.016,"y":150.7},{"s":"51","c":"k","t":1.044,"y":161.7},{"s":"51","c":"k","t":1.067,"y":156.7},{"s":"51","c":"k","t":1.091,"y":160},{"s":"51","c":"k","t":1.12,"y":158.3},{"s":"51","c":"k","t":1.369,"y":158.3},
{"s":"47","c":"b","t":0.499,"y":188.3},{"s":"47","c":"b","t":0.754,"y":190},{"s":"47","c":"b","t":0.81,"y":186},{"s":"47","c":"b","t":0.913,"y":190},{"s":"47","c":"b","t":0.997,"y":182.7},{"s":"47","c":"b","t":1.044,"y":197.7},{"s":"47","c":"b","t":1.072,"y":181.7},{"s":"47","c":"b","t":1.1,"y":191},{"s":"47","c":"b","t":1.121,"y":185.7},{"s":"47","c":"b","t":1.147,"y":193.3},{"s":"47","c":"b","t":1.175,"y":183.3},{"s":"47","c":"b","t":1.222,"y":189.3},{"s":"47","c":"b","t":1.369,"y":187.7},
{"s":"47","c":"k","t":0.499,"y":197.7},{"s":"47","c":"k","t":0.95,"y":197.7},{"s":"47","c":"k","t":1.044,"y":196.7},{"s":"47","c":"k","t":1.072,"y":192.7},{"s":"47","c":"k","t":1.1,"y":207.7},{"s":"47","c":"k","t":1.128,"y":196},{"s":"47","c":"k","t":1.152,"y":199.3},{"s":"47","c":"k","t":1.17,"y":196.7},{"s":"47","c":"k","t":1.2,"y":197.7},{"s":"47","c":"k","t":1.369,"y":197.7},
{"s":"46","c":"b","t":0.499,"y":227.7},{"s":"46","c":"b","t":0.745,"y":226},{"s":"46","c":"b","t":0.88,"y":227.7},{"s":"46","c":"b","t":0.988,"y":224.3},{"s":"46","c":"b","t":1.025,"y":235.7},{"s":"46","c":"b","t":1.053,"y":231},{"s":"46","c":"b","t":1.098,"y":217.7},{"s":"46","c":"b","t":1.136,"y":233.3},{"s":"46","c":"b","t":1.166,"y":228.3},{"s":"46","c":"b","t":1.2,"y":227.7},{"s":"46","c":"b","t":1.369,"y":227.7},
{"s":"46","c":"k","t":0.499,"y":237.3},{"s":"46","c":"k","t":0.95,"y":237.3},{"s":"46","c":"k","t":1.006,"y":237.3},{"s":"46","c":"k","t":1.03,"y":234.3},{"s":"46","c":"k","t":1.072,"y":246.7},{"s":"46","c":"k","t":1.1,"y":235},{"s":"46","c":"k","t":1.119,"y":238.3},{"s":"46","c":"k","t":1.15,"y":237.3},{"s":"46","c":"k","t":1.369,"y":237.3},
{"s":"45","c":"b","t":0.501,"y":267.3},{"s":"45","c":"b","t":0.9,"y":267.3},{"s":"45","c":"b","t":0.978,"y":267.3},{"s":"45","c":"b","t":0.997,"y":266.7},{"s":"45","c":"b","t":1.016,"y":273.3},{"s":"45","c":"b","t":1.044,"y":260},{"s":"45","c":"b","t":1.067,"y":269.3},{"s":"45","c":"b","t":1.09,"y":261},{"s":"45","c":"b","t":1.123,"y":276.7},{"s":"45","c":"b","t":1.16,"y":264},{"s":"45","c":"b","t":1.202,"y":267},{"s":"45","c":"b","t":1.369,"y":267.3},
{"s":"45","c":"k","t":0.501,"y":276.7},{"s":"45","c":"k","t":0.697,"y":275.5},{"s":"45","c":"k","t":0.81,"y":276.7},{"s":"45","c":"k","t":0.898,"y":274.5},{"s":"45","c":"k","t":0.959,"y":278.3},{"s":"45","c":"k","t":1.001,"y":286.7},{"s":"45","c":"k","t":1.039,"y":267.3},{"s":"45","c":"k","t":1.071,"y":271.7},{"s":"45","c":"k","t":1.099,"y":282.3},{"s":"45","c":"k","t":1.137,"y":279},{"s":"45","c":"k","t":1.18,"y":276.7},{"s":"45","c":"k","t":1.369,"y":276.7},
{"s":"44","c":"b","t":0.501,"y":307.3},{"s":"44","c":"b","t":0.95,"y":307.3},{"s":"44","c":"b","t":0.978,"y":303.3},{"s":"44","c":"b","t":1.004,"y":316.7},{"s":"44","c":"b","t":1.039,"y":304.3},{"s":"44","c":"b","t":1.071,"y":300},{"s":"44","c":"b","t":1.107,"y":312.3},{"s":"44","c":"b","t":1.137,"y":305.7},{"s":"44","c":"b","t":1.165,"y":309},{"s":"44","c":"b","t":1.2,"y":307.3},{"s":"44","c":"b","t":1.369,"y":307.3},
{"s":"44","c":"k","t":0.501,"y":316.7},{"s":"44","c":"k","t":0.95,"y":316.7},{"s":"44","c":"k","t":0.978,"y":314.3},{"s":"44","c":"k","t":0.997,"y":317.3},{"s":"44","c":"k","t":1.02,"y":312.7},{"s":"44","c":"k","t":1.048,"y":327.3},{"s":"44","c":"k","t":1.071,"y":311.7},{"s":"44","c":"k","t":1.1,"y":318.3},{"s":"44","c":"k","t":1.118,"y":315.7},{"s":"44","c":"k","t":1.15,"y":316.7},{"s":"44","c":"k","t":1.369,"y":316.7},
{"s":"43","c":"b","t":0.501,"y":346.7},{"s":"43","c":"b","t":0.95,"y":346.7},{"s":"43","c":"b","t":0.959,"y":345},{"s":"43","c":"b","t":0.987,"y":355.7},{"s":"43","c":"b","t":1.023,"y":336.7},{"s":"43","c":"b","t":1.076,"y":350.7},{"s":"43","c":"b","t":1.109,"y":345},{"s":"43","c":"b","t":1.14,"y":346.7},{"s":"43","c":"b","t":1.369,"y":346.7},
{"s":"43","c":"k","t":0.501,"y":356.7},{"s":"43","c":"k","t":0.856,"y":358.3},{"s":"43","c":"k","t":0.93,"y":356.7},{"s":"43","c":"k","t":0.955,"y":353.3},{"s":"43","c":"k","t":0.987,"y":356},{"s":"43","c":"k","t":1.022,"y":366.7},{"s":"43","c":"k","t":1.053,"y":350},{"s":"43","c":"k","t":1.081,"y":355},{"s":"43","c":"k","t":1.1,"y":357.7},{"s":"43","c":"k","t":1.13,"y":356.7},{"s":"43","c":"k","t":1.369,"y":356.7},
{"s":"42","c":"b","t":0.501,"y":386.7},{"s":"42","c":"b","t":0.735,"y":385},{"s":"42","c":"b","t":0.9,"y":386.7},{"s":"42","c":"b","t":0.967,"y":380.7},{"s":"42","c":"b","t":1.002,"y":396},{"s":"42","c":"b","t":1.062,"y":382.7},{"s":"42","c":"b","t":1.109,"y":386},{"s":"42","c":"b","t":1.369,"y":386.7},
{"s":"42","c":"k","t":0.501,"y":396},{"s":"42","c":"k","t":0.93,"y":396},{"s":"42","c":"k","t":0.955,"y":393.3},{"s":"42","c":"k","t":0.973,"y":397.3},{"s":"42","c":"k","t":0.992,"y":393.3},{"s":"42","c":"k","t":1.017,"y":405.7},{"s":"42","c":"k","t":1.045,"y":391},{"s":"42","c":"k","t":1.067,"y":396.7},{"s":"42","c":"k","t":1.09,"y":394},{"s":"42","c":"k","t":1.12,"y":396},{"s":"42","c":"k","t":1.369,"y":396},
{"s":"41","c":"b","t":0.501,"y":426},{"s":"41","c":"b","t":0.744,"y":424},{"s":"41","c":"b","t":0.829,"y":427.7},{"s":"41","c":"b","t":0.93,"y":426},{"s":"41","c":"b","t":0.957,"y":421},{"s":"41","c":"b","t":0.995,"y":435.7},{"s":"41","c":"b","t":1.03,"y":423.3},{"s":"41","c":"b","t":1.09,"y":425},{"s":"41","c":"b","t":1.369,"y":426},
{"s":"41","c":"k","t":0.501,"y":435.7},{"s":"41","c":"k","t":0.93,"y":435.7},{"s":"41","c":"k","t":0.959,"y":433.3},{"s":"41","c":"k","t":0.997,"y":445.7},{"s":"41","c":"k","t":1.03,"y":431.7},{"s":"41","c":"k","t":1.053,"y":436.7},{"s":"41","c":"k","t":1.08,"y":435.7},{"s":"41","c":"k","t":1.369,"y":435.7},
{"s":"39","c":"b","t":0.501,"y":465.7},{"s":"39","c":"b","t":0.93,"y":465.7},{"s":"39","c":"b","t":0.959,"y":463.3},{"s":"39","c":"b","t":0.983,"y":459.3},{"s":"39","c":"b","t":1.011,"y":475},{"s":"39","c":"b","t":1.036,"y":461.7},{"s":"39","c":"b","t":1.058,"y":467.3},{"s":"39","c":"b","t":1.09,"y":465.7},{"s":"39","c":"b","t":1.369,"y":465.7},
{"s":"39","c":"k","t":0.501,"y":475.7},{"s":"39","c":"k","t":0.93,"y":475.7},{"s":"39","c":"k","t":0.978,"y":471.7},{"s":"39","c":"k","t":1.001,"y":485.7},{"s":"39","c":"k","t":1.03,"y":470.7},{"s":"39","c":"k","t":1.053,"y":475.7},{"s":"39","c":"k","t":1.369,"y":475.7},
{"s":"25","c":"b","t":0.501,"y":504.3},{"s":"25","c":"b","t":0.576,"y":507.3},{"s":"25","c":"b","t":0.679,"y":502.3},{"s":"25","c":"b","t":0.744,"y":511},{"s":"25","c":"b","t":0.847,"y":505},{"s":"25","c":"b","t":0.95,"y":505},{"s":"25","c":"b","t":0.987,"y":511.7},{"s":"25","c":"b","t":1.025,"y":495.7},{"s":"25","c":"b","t":1.109,"y":509.3},{"s":"25","c":"b","t":1.221,"y":503.3},{"s":"25","c":"b","t":1.369,"y":506},
{"s":"25","c":"k","t":0.501,"y":515},{"s":"25","c":"k","t":0.93,"y":515},{"s":"25","c":"k","t":0.959,"y":515},{"s":"25","c":"k","t":0.983,"y":519.3},{"s":"25","c":"k","t":1.008,"y":505},{"s":"25","c":"k","t":1.036,"y":521},{"s":"25","c":"k","t":1.058,"y":515},{"s":"25","c":"k","t":1.081,"y":516.7},{"s":"25","c":"k","t":1.11,"y":515},{"s":"25","c":"k","t":1.369,"y":515}
],
"blL":[{"s":"55","y":35},{"s":"54","y":75},{"s":"52","y":114},{"s":"51","y":154},{"s":"47","y":193.3},{"s":"46","y":233.3},{"s":"45","y":273.3},{"s":"44","y":312.3},{"s":"43","y":351.7},{"s":"42","y":391.7},{"s":"41","y":431.7},{"s":"39","y":471},{"s":"25","y":510.7}],
"bm":[
{"s":"55","c":"b","t":0.5,"y":24.3},{"s":"55","c":"b","t":0.85,"y":24.3},{"s":"55","c":"b","t":0.917,"y":24.3},{"s":"55","c":"b","t":0.95,"y":22.3},{"s":"55","c":"b","t":0.973,"y":26.7},{"s":"55","c":"b","t":1.006,"y":29},{"s":"55","c":"b","t":1.041,"y":15},{"s":"55","c":"b","t":1.076,"y":29},{"s":"55","c":"b","t":1.095,"y":25},{"s":"55","c":"b","t":1.123,"y":24.3},{"s":"55","c":"b","t":1.371,"y":24.3},
{"s":"55","c":"k","t":0.5,"y":34.3},{"s":"55","c":"k","t":0.75,"y":34.7},{"s":"55","c":"k","t":0.87,"y":35.7},{"s":"55","c":"k","t":0.945,"y":30.7},{"s":"55","c":"k","t":0.973,"y":35},{"s":"55","c":"k","t":1.006,"y":42.3},{"s":"55","c":"k","t":1.027,"y":31},{"s":"55","c":"k","t":1.055,"y":40.7},{"s":"55","c":"k","t":1.083,"y":25},{"s":"55","c":"k","t":1.104,"y":35},{"s":"55","c":"k","t":1.123,"y":33.3},{"s":"55","c":"k","t":1.142,"y":36.7},{"s":"55","c":"k","t":1.17,"y":34.3},{"s":"55","c":"k","t":1.371,"y":34.3},
{"s":"54","c":"b","t":0.5,"y":64},{"s":"54","c":"b","t":0.655,"y":63.7},{"s":"54","c":"b","t":0.748,"y":59.3},{"s":"54","c":"b","t":0.786,"y":67.3},{"s":"54","c":"b","t":0.908,"y":61.7},{"s":"54","c":"b","t":1.034,"y":70},{"s":"54","c":"b","t":1.069,"y":55},{"s":"54","c":"b","t":1.104,"y":65.7},{"s":"54","c":"b","t":1.179,"y":66.7},{"s":"54","c":"b","t":1.216,"y":64.3},{"s":"54","c":"b","t":1.31,"y":63.3},{"s":"54","c":"b","t":1.338,"y":68.3},{"s":"54","c":"b","t":1.371,"y":64.3},
{"s":"54","c":"k","t":0.5,"y":74},{"s":"54","c":"k","t":0.935,"y":71.7},{"s":"54","c":"k","t":1.001,"y":70.7},{"s":"54","c":"k","t":1.046,"y":84},{"s":"54","c":"k","t":1.081,"y":67.3},{"s":"54","c":"k","t":1.113,"y":73.3},{"s":"54","c":"k","t":1.141,"y":75},{"s":"54","c":"k","t":1.18,"y":74},{"s":"54","c":"k","t":1.371,"y":74},
{"s":"52","c":"b","t":0.5,"y":102.3},{"s":"52","c":"b","t":0.58,"y":106.7},{"s":"52","c":"b","t":0.678,"y":99.3},{"s":"52","c":"b","t":0.746,"y":113.7},{"s":"52","c":"b","t":0.804,"y":101.7},{"s":"52","c":"b","t":0.935,"y":106},{"s":"52","c":"b","t":1.015,"y":100.7},{"s":"52","c":"b","t":1.076,"y":104.3},{"s":"52","c":"b","t":1.216,"y":102.3},{"s":"52","c":"b","t":1.371,"y":104.3},
{"s":"52","c":"k","t":0.5,"y":113.3},{"s":"52","c":"k","t":0.9,"y":113.3},{"s":"52","c":"k","t":0.954,"y":116.7},{"s":"52","c":"k","t":0.992,"y":115},{"s":"52","c":"k","t":1.018,"y":104},{"s":"52","c":"k","t":1.046,"y":118.3},{"s":"52","c":"k","t":1.067,"y":114},{"s":"52","c":"k","t":1.085,"y":116},{"s":"52","c":"k","t":1.12,"y":113.3},{"s":"52","c":"k","t":1.371,"y":113.3},
{"s":"51","c":"b","t":0.5,"y":142.7},{"s":"51","c":"b","t":0.9,"y":142.7},{"s":"51","c":"b","t":0.954,"y":141},{"s":"51","c":"b","t":0.987,"y":146.7},{"s":"51","c":"b","t":1.04,"y":133.3},{"s":"51","c":"b","t":1.074,"y":150},{"s":"51","c":"b","t":1.104,"y":141.3},{"s":"51","c":"b","t":1.14,"y":142.7},{"s":"51","c":"b","t":1.371,"y":142.7},
{"s":"51","c":"k","t":0.5,"y":152.7},{"s":"51","c":"k","t":0.85,"y":152.7},{"s":"51","c":"k","t":0.898,"y":155},{"s":"51","c":"k","t":0.917,"y":153.7},{"s":"51","c":"k","t":0.94,"y":156.7},{"s":"51","c":"k","t":0.964,"y":147.7},{"s":"51","c":"k","t":0.987,"y":154.3},{"s":"51","c":"k","t":1.01,"y":145},{"s":"51","c":"k","t":1.039,"y":163.3},{"s":"51","c":"k","t":1.057,"y":155},{"s":"51","c":"k","t":1.076,"y":156.7},{"s":"51","c":"k","t":1.104,"y":151},{"s":"51","c":"k","t":1.141,"y":152.7},{"s":"51","c":"k","t":1.371,"y":152.7},
{"s":"47","c":"b","t":0.5,"y":183.3},{"s":"47","c":"b","t":0.95,"y":183.3},{"s":"47","c":"b","t":1.029,"y":181},{"s":"47","c":"b","t":1.069,"y":175.7},{"s":"47","c":"b","t":1.104,"y":192.7},{"s":"47","c":"b","t":1.16,"y":180},{"s":"47","c":"b","t":1.216,"y":183.3},{"s":"47","c":"b","t":1.371,"y":183.3},
{"s":"47","c":"k","t":0.5,"y":193.3},{"s":"47","c":"k","t":0.95,"y":193.3},{"s":"47","c":"k","t":1.03,"y":193},{"s":"47","c":"k","t":1.067,"y":188.3},{"s":"47","c":"k","t":1.099,"y":202.7},{"s":"47","c":"k","t":1.128,"y":187.3},{"s":"47","c":"k","t":1.151,"y":193.3},{"s":"47","c":"k","t":1.371,"y":193.3},
{"s":"46","c":"b","t":0.5,"y":222.3},{"s":"46","c":"b","t":0.95,"y":222.3},{"s":"46","c":"b","t":1.02,"y":221.7},{"s":"46","c":"b","t":1.04,"y":215},{"s":"46","c":"b","t":1.076,"y":232.7},{"s":"46","c":"b","t":1.104,"y":221},{"s":"46","c":"b","t":1.141,"y":221},{"s":"46","c":"b","t":1.18,"y":222.3},{"s":"46","c":"b","t":1.371,"y":222.3},
{"s":"46","c":"k","t":0.5,"y":232.7},{"s":"46","c":"k","t":0.95,"y":232.7},{"s":"46","c":"k","t":1.006,"y":229.3},{"s":"46","c":"k","t":1.029,"y":235},{"s":"46","c":"k","t":1.04,"y":226.7},{"s":"46","c":"k","t":1.071,"y":242.3},{"s":"46","c":"k","t":1.102,"y":226.7},{"s":"46","c":"k","t":1.123,"y":231},{"s":"46","c":"k","t":1.15,"y":232.7},{"s":"46","c":"k","t":1.371,"y":232.7},
{"s":"45","c":"b","t":0.5,"y":262},{"s":"45","c":"b","t":0.95,"y":262},{"s":"45","c":"b","t":0.992,"y":262},{"s":"45","c":"b","t":1.039,"y":258.3},{"s":"45","c":"b","t":1.071,"y":272.3},{"s":"45","c":"b","t":1.099,"y":257.7},{"s":"45","c":"b","t":1.127,"y":263.3},{"s":"45","c":"b","t":1.179,"y":260.7},{"s":"45","c":"b","t":1.207,"y":264},{"s":"45","c":"b","t":1.263,"y":262},{"s":"45","c":"b","t":1.371,"y":262},
{"s":"45","c":"k","t":0.5,"y":272.7},{"s":"45","c":"k","t":0.95,"y":272.7},{"s":"45","c":"k","t":0.973,"y":272.7},{"s":"45","c":"k","t":1.001,"y":269.3},{"s":"45","c":"k","t":1.024,"y":274},{"s":"45","c":"k","t":1.046,"y":266.7},{"s":"45","c":"k","t":1.074,"y":282.3},{"s":"45","c":"k","t":1.104,"y":266.7},{"s":"45","c":"k","t":1.128,"y":274},{"s":"45","c":"k","t":1.146,"y":270},{"s":"45","c":"k","t":1.18,"y":272.7},{"s":"45","c":"k","t":1.371,"y":272.7},
{"s":"44","c":"b","t":0.5,"y":302.3},{"s":"44","c":"b","t":0.95,"y":302.3},{"s":"44","c":"b","t":0.987,"y":300.7},{"s":"44","c":"b","t":1.015,"y":296.7},{"s":"44","c":"b","t":1.046,"y":312.3},{"s":"44","c":"b","t":1.074,"y":297.3},{"s":"44","c":"b","t":1.095,"y":302},{"s":"44","c":"b","t":1.114,"y":300},{"s":"44","c":"b","t":1.132,"y":303.3},{"s":"44","c":"b","t":1.16,"y":302.3},{"s":"44","c":"b","t":1.371,"y":302.3},
{"s":"44","c":"k","t":0.5,"y":311.7},{"s":"44","c":"k","t":0.95,"y":311.7},{"s":"44","c":"k","t":0.987,"y":310},{"s":"44","c":"k","t":0.996,"y":314},{"s":"44","c":"k","t":1.018,"y":304.3},{"s":"44","c":"k","t":1.048,"y":321.7},{"s":"44","c":"k","t":1.071,"y":305.7},{"s":"44","c":"k","t":1.09,"y":312.3},{"s":"44","c":"k","t":1.109,"y":309.3},{"s":"44","c":"k","t":1.14,"y":311.7},{"s":"44","c":"k","t":1.371,"y":311.7},
{"s":"43","c":"b","t":0.5,"y":341.7},{"s":"43","c":"b","t":0.93,"y":341.7},{"s":"43","c":"b","t":0.954,"y":340},{"s":"43","c":"b","t":0.987,"y":346.7},{"s":"43","c":"b","t":1.04,"y":331.7},{"s":"43","c":"b","t":1.074,"y":348.3},{"s":"43","c":"b","t":1.104,"y":340},{"s":"43","c":"b","t":1.14,"y":341.7},{"s":"43","c":"b","t":1.371,"y":341.7},
{"s":"43","c":"k","t":0.5,"y":351},{"s":"43","c":"k","t":0.92,"y":351},{"s":"43","c":"k","t":0.954,"y":348.3},{"s":"43","c":"k","t":0.992,"y":351.7},{"s":"43","c":"k","t":1.02,"y":361},{"s":"43","c":"k","t":1.053,"y":346},{"s":"43","c":"k","t":1.071,"y":351.7},{"s":"43","c":"k","t":1.09,"y":349.3},{"s":"43","c":"k","t":1.12,"y":351},{"s":"43","c":"k","t":1.371,"y":351},
{"s":"42","c":"b","t":0.5,"y":380.7},{"s":"42","c":"b","t":0.93,"y":380.7},{"s":"42","c":"b","t":0.954,"y":377.7},{"s":"42","c":"b","t":0.987,"y":377.3},{"s":"42","c":"b","t":1.02,"y":391},{"s":"42","c":"b","t":1.053,"y":378.3},{"s":"42","c":"b","t":1.123,"y":381.7},{"s":"42","c":"b","t":1.371,"y":380.7},
{"s":"42","c":"k","t":0.5,"y":391},{"s":"42","c":"k","t":0.93,"y":391},{"s":"42","c":"k","t":0.95,"y":387.7},{"s":"42","c":"k","t":0.968,"y":391},{"s":"42","c":"k","t":0.992,"y":386.7},{"s":"42","c":"k","t":1.018,"y":401},{"s":"42","c":"k","t":1.048,"y":385},{"s":"42","c":"k","t":1.067,"y":390.7},{"s":"42","c":"k","t":1.085,"y":389},{"s":"42","c":"k","t":1.12,"y":391},{"s":"42","c":"k","t":1.371,"y":391},
{"s":"41","c":"b","t":0.5,"y":420.7},{"s":"41","c":"b","t":0.9,"y":420.7},{"s":"41","c":"b","t":0.959,"y":416.7},{"s":"41","c":"b","t":0.999,"y":430.7},{"s":"41","c":"b","t":1.034,"y":416.7},{"s":"41","c":"b","t":1.123,"y":420},{"s":"41","c":"b","t":1.16,"y":423.3},{"s":"41","c":"b","t":1.2,"y":420.7},{"s":"41","c":"b","t":1.371,"y":420.7},
{"s":"41","c":"k","t":0.5,"y":431},{"s":"41","c":"k","t":0.92,"y":431},{"s":"41","c":"k","t":0.964,"y":427.3},{"s":"41","c":"k","t":0.999,"y":441},{"s":"41","c":"k","t":1.027,"y":427.7},{"s":"41","c":"k","t":1.048,"y":431.7},{"s":"41","c":"k","t":1.371,"y":431},
{"s":"39","c":"b","t":0.5,"y":460.7},{"s":"39","c":"b","t":0.93,"y":460.7},{"s":"39","c":"b","t":0.978,"y":457.3},{"s":"39","c":"b","t":1.009,"y":470.7},{"s":"39","c":"b","t":1.039,"y":458.3},{"s":"39","c":"b","t":1.067,"y":461.7},{"s":"39","c":"b","t":1.371,"y":460.7},
{"s":"39","c":"k","t":0.5,"y":470.3},{"s":"39","c":"k","t":0.92,"y":470.3},{"s":"39","c":"k","t":0.94,"y":468.3},{"s":"39","c":"k","t":0.959,"y":472.3},{"s":"39","c":"k","t":0.978,"y":464.3},{"s":"39","c":"k","t":1.009,"y":480.7},{"s":"39","c":"k","t":1.034,"y":466.7},{"s":"39","c":"k","t":1.053,"y":471.7},{"s":"39","c":"k","t":1.071,"y":469.3},{"s":"39","c":"k","t":1.1,"y":470.3},{"s":"39","c":"k","t":1.371,"y":470.3},
{"s":"25","c":"b","t":0.5,"y":498.3},{"s":"25","c":"b","t":0.58,"y":502.3},{"s":"25","c":"b","t":0.678,"y":495.7},{"s":"25","c":"b","t":0.75,"y":509.3},{"s":"25","c":"b","t":0.814,"y":496},{"s":"25","c":"b","t":0.935,"y":501.7},{"s":"25","c":"b","t":1.006,"y":495.7},{"s":"25","c":"b","t":1.076,"y":499.3},{"s":"25","c":"b","t":1.216,"y":498.3},{"s":"25","c":"b","t":1.371,"y":500},
{"s":"25","c":"k","t":0.5,"y":509.3},{"s":"25","c":"k","t":0.935,"y":508.3},{"s":"25","c":"k","t":0.954,"y":510},{"s":"25","c":"k","t":0.98,"y":505.7},{"s":"25","c":"k","t":1.01,"y":519.3},{"s":"25","c":"k","t":1.037,"y":505},{"s":"25","c":"k","t":1.057,"y":510},{"s":"25","c":"k","t":1.076,"y":507.3},{"s":"25","c":"k","t":1.1,"y":509.3},{"s":"25","c":"k","t":1.371,"y":509.3}
],
"bmL":[{"s":"55","y":30},{"s":"54","y":70},{"s":"52","y":109.3},{"s":"51","y":149},{"s":"47","y":188.3},{"s":"46","y":227.7},{"s":"45","y":268.3},{"s":"44","y":308.3},{"s":"43","y":347.7},{"s":"42","y":386.7},{"s":"41","y":426.7},{"s":"39","y":466},{"s":"25","y":505.7}],
"br":[
{"s":"55","c":"b","t":0.5,"y":20},{"s":"55","c":"b","t":0.7,"y":20.3},{"s":"55","c":"b","t":0.85,"y":19.7},{"s":"55","c":"b","t":0.914,"y":20},{"s":"55","c":"b","t":0.951,"y":18.3},{"s":"55","c":"b","t":0.966,"y":21.7},{"s":"55","c":"b","t":0.987,"y":15},{"s":"55","c":"b","t":1.015,"y":28.3},{"s":"55","c":"b","t":1.042,"y":10.7},{"s":"55","c":"b","t":1.078,"y":22.3},{"s":"55","c":"b","t":1.101,"y":22.3},{"s":"55","c":"b","t":1.12,"y":19.3},{"s":"55","c":"b","t":1.16,"y":20.3},{"s":"55","c":"b","t":1.25,"y":19.7},{"s":"55","c":"b","t":1.368,"y":20},
{"s":"55","c":"k","t":0.5,"y":30},{"s":"55","c":"k","t":0.95,"y":30},{"s":"55","c":"k","t":1.008,"y":30},{"s":"55","c":"k","t":1.026,"y":31.7},{"s":"55","c":"k","t":1.043,"y":35.7},{"s":"55","c":"k","t":1.075,"y":20},{"s":"55","c":"k","t":1.103,"y":35.7},{"s":"55","c":"k","t":1.129,"y":30},{"s":"55","c":"k","t":1.368,"y":30},
{"s":"54","c":"b","t":0.5,"y":60},{"s":"54","c":"b","t":0.605,"y":57.3},{"s":"54","c":"b","t":0.685,"y":64},{"s":"54","c":"b","t":0.746,"y":49.3},{"s":"54","c":"b","t":0.816,"y":65.7},{"s":"54","c":"b","t":0.914,"y":56.7},{"s":"54","c":"b","t":1.008,"y":63.3},{"s":"54","c":"b","t":1.036,"y":51.7},{"s":"54","c":"b","t":1.064,"y":64},{"s":"54","c":"b","t":1.099,"y":54},{"s":"54","c":"b","t":1.139,"y":61.7},{"s":"54","c":"b","t":1.204,"y":59.3},{"s":"54","c":"b","t":1.289,"y":55.7},{"s":"54","c":"b","t":1.34,"y":66.7},{"s":"54","c":"b","t":1.368,"y":58.3},
{"s":"54","c":"k","t":0.5,"y":70},{"s":"54","c":"k","t":0.95,"y":70},{"s":"54","c":"k","t":1.024,"y":67.7},{"s":"54","c":"k","t":1.045,"y":71.7},{"s":"54","c":"k","t":1.071,"y":59.3},{"s":"54","c":"k","t":1.099,"y":76},{"s":"54","c":"k","t":1.129,"y":70},{"s":"54","c":"k","t":1.148,"y":71.7},{"s":"54","c":"k","t":1.17,"y":70},{"s":"54","c":"k","t":1.368,"y":70},
{"s":"52","c":"b","t":0.5,"y":98.7},{"s":"52","c":"b","t":0.577,"y":96.7},{"s":"52","c":"b","t":0.68,"y":104},{"s":"52","c":"b","t":0.747,"y":89.3},{"s":"52","c":"b","t":0.811,"y":103.3},{"s":"52","c":"b","t":0.914,"y":97.3},{"s":"52","c":"b","t":0.989,"y":100},{"s":"52","c":"b","t":1.026,"y":102.3},{"s":"52","c":"b","t":1.101,"y":97.3},{"s":"52","c":"b","t":1.214,"y":100},{"s":"52","c":"b","t":1.368,"y":99},
{"s":"52","c":"k","t":0.5,"y":109.3},{"s":"52","c":"k","t":0.652,"y":110.3},{"s":"52","c":"k","t":0.858,"y":108.3},{"s":"52","c":"k","t":0.914,"y":107.3},{"s":"52","c":"k","t":0.97,"y":113.3},{"s":"52","c":"k","t":1.003,"y":100},{"s":"52","c":"k","t":1.031,"y":111.7},{"s":"52","c":"k","t":1.073,"y":112.3},{"s":"52","c":"k","t":1.12,"y":110.3},{"s":"52","c":"k","t":1.368,"y":109.3},
{"s":"51","c":"b","t":0.5,"y":139},{"s":"51","c":"b","t":0.7,"y":139.3},{"s":"51","c":"b","t":0.9,"y":138.7},{"s":"51","c":"b","t":0.928,"y":137.7},{"s":"51","c":"b","t":0.966,"y":141.7},{"s":"51","c":"b","t":0.988,"y":133.3},{"s":"51","c":"b","t":1.017,"y":148.3},{"s":"51","c":"b","t":1.042,"y":130},{"s":"51","c":"b","t":1.064,"y":138.3},{"s":"51","c":"b","t":1.082,"y":142.3},{"s":"51","c":"b","t":1.111,"y":138.3},{"s":"51","c":"b","t":1.15,"y":139},{"s":"51","c":"b","t":1.368,"y":139},
{"s":"51","c":"k","t":0.5,"y":149},{"s":"51","c":"k","t":0.877,"y":147.7},{"s":"51","c":"k","t":0.961,"y":150},{"s":"51","c":"k","t":0.996,"y":139.3},{"s":"51","c":"k","t":1.026,"y":154.3},{"s":"51","c":"k","t":1.054,"y":150},{"s":"51","c":"k","t":1.082,"y":151},{"s":"51","c":"k","t":1.11,"y":149},{"s":"51","c":"k","t":1.368,"y":149},
{"s":"47","c":"b","t":0.5,"y":178.7},{"s":"47","c":"b","t":0.95,"y":178.7},{"s":"47","c":"b","t":1.026,"y":177.7},{"s":"47","c":"b","t":1.064,"y":176.7},{"s":"47","c":"b","t":1.085,"y":180},{"s":"47","c":"b","t":1.106,"y":188.3},{"s":"47","c":"b","t":1.141,"y":170},{"s":"47","c":"b","t":1.167,"y":179},{"s":"47","c":"b","t":1.2,"y":178.7},{"s":"47","c":"b","t":1.368,"y":178.7},
{"s":"47","c":"k","t":0.5,"y":187.7},{"s":"47","c":"k","t":0.605,"y":186.7},{"s":"47","c":"k","t":0.69,"y":189},{"s":"47","c":"k","t":0.82,"y":187},{"s":"47","c":"k","t":0.933,"y":189},{"s":"47","c":"k","t":1.003,"y":183.3},{"s":"47","c":"k","t":1.045,"y":195},{"s":"47","c":"k","t":1.078,"y":198.3},{"s":"47","c":"k","t":1.115,"y":179},{"s":"47","c":"k","t":1.158,"y":186.7},{"s":"47","c":"k","t":1.181,"y":188.3},{"s":"47","c":"k","t":1.22,"y":187.7},{"s":"47","c":"k","t":1.368,"y":187.7},
{"s":"46","c":"b","t":0.5,"y":218.3},{"s":"46","c":"b","t":0.95,"y":218.3},{"s":"46","c":"b","t":1.036,"y":216},{"s":"46","c":"b","t":1.064,"y":225},{"s":"46","c":"b","t":1.127,"y":208.3},{"s":"46","c":"b","t":1.162,"y":222.3},{"s":"46","c":"b","t":1.214,"y":220},{"s":"46","c":"b","t":1.25,"y":218.3},{"s":"46","c":"b","t":1.368,"y":218.3},
{"s":"46","c":"k","t":0.5,"y":227.7},{"s":"46","c":"k","t":0.698,"y":229},{"s":"46","c":"k","t":0.905,"y":225},{"s":"46","c":"k","t":0.998,"y":223.3},{"s":"46","c":"k","t":1.056,"y":237.7},{"s":"46","c":"k","t":1.092,"y":219.3},{"s":"46","c":"k","t":1.129,"y":225.3},{"s":"46","c":"k","t":1.176,"y":227.7},{"s":"46","c":"k","t":1.368,"y":227.7},
{"s":"45","c":"b","t":0.5,"y":257.3},{"s":"45","c":"b","t":0.95,"y":257.3},{"s":"45","c":"b","t":1.008,"y":257.3},{"s":"45","c":"b","t":1.045,"y":255.7},{"s":"45","c":"b","t":1.073,"y":266},{"s":"45","c":"b","t":1.106,"y":247.7},{"s":"45","c":"b","t":1.139,"y":259},{"s":"45","c":"b","t":1.162,"y":263.3},{"s":"45","c":"b","t":1.186,"y":259},{"s":"45","c":"b","t":1.232,"y":257.3},{"s":"45","c":"b","t":1.368,"y":257.3},
{"s":"45","c":"k","t":0.5,"y":267.3},{"s":"45","c":"k","t":0.885,"y":269.3},{"s":"45","c":"k","t":0.998,"y":262.7},{"s":"45","c":"k","t":1.052,"y":277.3},{"s":"45","c":"k","t":1.087,"y":260.7},{"s":"45","c":"k","t":1.12,"y":266},{"s":"45","c":"k","t":1.148,"y":266.7},{"s":"45","c":"k","t":1.18,"y":267.3},{"s":"45","c":"k","t":1.368,"y":267.3},
{"s":"44","c":"b","t":0.5,"y":297.7},{"s":"44","c":"b","t":0.745,"y":299.3},{"s":"44","c":"b","t":0.9,"y":297.7},{"s":"44","c":"b","t":0.989,"y":296.7},{"s":"44","c":"b","t":1.012,"y":292.3},{"s":"44","c":"b","t":1.043,"y":306.7},{"s":"44","c":"b","t":1.071,"y":292.7},{"s":"44","c":"b","t":1.087,"y":294.3},{"s":"44","c":"b","t":1.106,"y":292.3},{"s":"44","c":"b","t":1.131,"y":303.3},{"s":"44","c":"b","t":1.157,"y":297.7},{"s":"44","c":"b","t":1.368,"y":297.7},
{"s":"44","c":"k","t":0.5,"y":307.3},{"s":"44","c":"k","t":0.9,"y":307.3},{"s":"44","c":"k","t":0.975,"y":304.3},{"s":"44","c":"k","t":1.026,"y":317.3},{"s":"44","c":"k","t":1.064,"y":302.3},{"s":"44","c":"k","t":1.12,"y":306.7},{"s":"44","c":"k","t":1.176,"y":308.3},{"s":"44","c":"k","t":1.22,"y":307.3},{"s":"44","c":"k","t":1.368,"y":307.3},
{"s":"43","c":"b","t":0.5,"y":337.3},{"s":"43","c":"b","t":0.9,"y":337.3},{"s":"43","c":"b","t":0.933,"y":336},{"s":"43","c":"b","t":0.97,"y":339.3},{"s":"43","c":"b","t":0.989,"y":331.7},{"s":"43","c":"b","t":1.017,"y":347.3},{"s":"43","c":"b","t":1.043,"y":328.3},{"s":"43","c":"b","t":1.068,"y":340},{"s":"43","c":"b","t":1.087,"y":336.7},{"s":"43","c":"b","t":1.106,"y":340.7},{"s":"43","c":"b","t":1.129,"y":336.7},{"s":"43","c":"b","t":1.16,"y":337.3},{"s":"43","c":"b","t":1.368,"y":337.3},
{"s":"43","c":"k","t":0.5,"y":347.3},{"s":"43","c":"k","t":0.9,"y":347.3},{"s":"43","c":"k","t":0.951,"y":345},{"s":"43","c":"k","t":1.008,"y":357.3},{"s":"43","c":"k","t":1.041,"y":345},{"s":"43","c":"k","t":1.073,"y":347.3},{"s":"43","c":"k","t":1.368,"y":347.3},
{"s":"42","c":"b","t":0.5,"y":377.3},{"s":"42","c":"b","t":0.93,"y":377.3},{"s":"42","c":"b","t":0.951,"y":375},{"s":"42","c":"b","t":0.992,"y":369.3},{"s":"42","c":"b","t":1.022,"y":386},{"s":"42","c":"b","t":1.047,"y":373.3},{"s":"42","c":"b","t":1.064,"y":377.7},{"s":"42","c":"b","t":1.087,"y":373.3},{"s":"42","c":"b","t":1.111,"y":379},{"s":"42","c":"b","t":1.14,"y":377.3},{"s":"42","c":"b","t":1.368,"y":377.3},
{"s":"42","c":"k","t":0.5,"y":386.7},{"s":"42","c":"k","t":0.93,"y":386.7},{"s":"42","c":"k","t":0.951,"y":384},{"s":"42","c":"k","t":1.003,"y":396.7},{"s":"42","c":"k","t":1.034,"y":382.7},{"s":"42","c":"k","t":1.073,"y":386.7},{"s":"42","c":"k","t":1.368,"y":386.7},
{"s":"41","c":"b","t":0.5,"y":416.7},{"s":"41","c":"b","t":0.736,"y":413.3},{"s":"41","c":"b","t":0.792,"y":419.3},{"s":"41","c":"b","t":0.895,"y":414},{"s":"41","c":"b","t":0.933,"y":415},{"s":"41","c":"b","t":0.951,"y":419.3},{"s":"41","c":"b","t":0.975,"y":413.3},{"s":"41","c":"b","t":1.006,"y":425.7},{"s":"41","c":"b","t":1.031,"y":412.7},{"s":"41","c":"b","t":1.064,"y":413.3},{"s":"41","c":"b","t":1.092,"y":415.7},{"s":"41","c":"b","t":1.12,"y":416.7},{"s":"41","c":"b","t":1.368,"y":416.7},
{"s":"41","c":"k","t":0.5,"y":426},{"s":"41","c":"k","t":0.923,"y":424.3},{"s":"41","c":"k","t":0.993,"y":436.7},{"s":"41","c":"k","t":1.019,"y":421},{"s":"41","c":"k","t":1.064,"y":425},{"s":"41","c":"k","t":1.368,"y":426},
{"s":"39","c":"b","t":0.5,"y":456.7},{"s":"39","c":"b","t":0.93,"y":456.7},{"s":"39","c":"b","t":0.951,"y":459.3},{"s":"39","c":"b","t":0.984,"y":446.7},{"s":"39","c":"b","t":1.017,"y":466},{"s":"39","c":"b","t":1.043,"y":452.7},{"s":"39","c":"b","t":1.073,"y":456},{"s":"39","c":"b","t":1.368,"y":456.7},
{"s":"39","c":"k","t":0.5,"y":466.7},{"s":"39","c":"k","t":0.93,"y":466.7},{"s":"39","c":"k","t":0.956,"y":470},{"s":"39","c":"k","t":0.984,"y":458.3},{"s":"39","c":"k","t":1.017,"y":471.7},{"s":"39","c":"k","t":1.045,"y":466},{"s":"39","c":"k","t":1.08,"y":466.7},{"s":"39","c":"k","t":1.368,"y":466.7},
{"s":"25","c":"b","t":0.5,"y":497},{"s":"25","c":"b","t":0.577,"y":494},{"s":"25","c":"b","t":0.68,"y":500.7},{"s":"25","c":"b","t":0.747,"y":486.7},{"s":"25","c":"b","t":0.811,"y":500},{"s":"25","c":"b","t":0.905,"y":494},{"s":"25","c":"b","t":0.989,"y":496.7},{"s":"25","c":"b","t":1.026,"y":499.3},{"s":"25","c":"b","t":1.12,"y":495},{"s":"25","c":"b","t":1.214,"y":497.3},{"s":"25","c":"b","t":1.368,"y":496},
{"s":"25","c":"k","t":0.5,"y":506.7},{"s":"25","c":"k","t":0.9,"y":506.7},{"s":"25","c":"k","t":0.951,"y":508.3},{"s":"25","c":"k","t":0.98,"y":507.3},{"s":"25","c":"k","t":1.006,"y":496.7},{"s":"25","c":"k","t":1.036,"y":510.7},{"s":"25","c":"k","t":1.064,"y":506.7},{"s":"25","c":"k","t":1.368,"y":506.7}
],
"brL":[{"s":"55","y":26.7},{"s":"54","y":66},{"s":"52","y":105},{"s":"51","y":145},{"s":"47","y":185},{"s":"46","y":224.3},{"s":"45","y":265},{"s":"44","y":303.3},{"s":"43","y":342.7},{"s":"42","y":382.7},{"s":"41","y":422.7},{"s":"39","y":461.7},{"s":"25","y":501.7}]
},
"bounds":"full",
"spacing":93,
"vconcat":[
{"hconcat":[
{"width":346,"height":624,"resolve":{"axis":{"x":"independent"}},"layer":[
{"data":{"name":"tl"},"mark":{"type":"line","interpolate":"monotone","strokeWidth":1.3},"encoding":{"x":{"field":"t","type":"quantitative","scale":{"domain":[0.6,1.4],"nice":false,"zero":false},"axis":{"orient":"bottom","values":[0.6,0.8,1,1.2,1.4],"format":"~g","title":"time (sec)","grid":false,"domainColor":"#8c8c8c","tickColor":"#8c8c8c","tickSize":-8,"labelFontSize":15,"labelFontWeight":"bold","labelColor":"#000","labelPadding":16,"labelFlush":false,"labelOverlap":false,"titleFontSize":15,"titleFontWeight":"bold","titleColor":"#000","titlePadding":5}},"y":{"field":"y","type":"quantitative","scale":{"domain":[0,624],"reverse":true,"nice":false,"zero":false},"axis":null},"color":{"field":"c","type":"nominal","scale":{"domain":["b","k"],"range":["#1f1fff","#000000"]},"legend":null},"detail":{"field":"s"}}},
{"data":{"name":"tlL"},"mark":{"type":"text","align":"left","baseline":"middle","fontSize":15,"color":"#1f1fff"},"encoding":{"x":{"datum":1.378,"type":"quantitative","scale":{"domain":[0.6,1.4],"nice":false,"zero":false},"axis":{"orient":"bottom","values":[0.7,0.9,1.1,1.3],"labels":false,"domain":false,"grid":false,"title":null,"tickSize":-5,"tickColor":"#8c8c8c"}},"y":{"field":"y","type":"quantitative","scale":{"domain":[0,624],"reverse":true,"nice":false,"zero":false},"axis":null},"text":{"field":"s"}}},
{"data":{"values":[{"n":"NS","t":0.981,"y":563}]},"mark":{"type":"text","fontSize":30,"fontWeight":"bold","color":"#000","baseline":"middle"},"encoding":{"x":{"field":"t","type":"quantitative","axis":null},"y":{"field":"y","type":"quantitative","axis":null},"text":{"field":"n"}}}
]},
{"width":346,"height":624,"resolve":{"axis":{"x":"independent"}},"layer":[
{"data":{"name":"tm"},"mark":{"type":"line","interpolate":"monotone","strokeWidth":1.3},"encoding":{"x":{"field":"t","type":"quantitative","scale":{"domain":[0.6,1.4],"nice":false,"zero":false},"axis":{"orient":"bottom","values":[0.6,0.8,1,1.2,1.4],"format":"~g","title":"time (sec)","grid":false,"domainColor":"#8c8c8c","tickColor":"#8c8c8c","tickSize":-8,"labelFontSize":15,"labelFontWeight":"bold","labelColor":"#000","labelPadding":16,"labelFlush":false,"labelOverlap":false,"titleFontSize":15,"titleFontWeight":"bold","titleColor":"#000","titlePadding":5}},"y":{"field":"y","type":"quantitative","scale":{"domain":[0,624],"reverse":true,"nice":false,"zero":false},"axis":null},"color":{"field":"c","type":"nominal","scale":{"domain":["b","k"],"range":["#1f1fff","#000000"]},"legend":null},"detail":{"field":"s"}}},
{"data":{"name":"tmL"},"mark":{"type":"text","align":"left","baseline":"middle","fontSize":15,"color":"#1f1fff"},"encoding":{"x":{"datum":1.391,"type":"quantitative","scale":{"domain":[0.6,1.4],"nice":false,"zero":false},"axis":{"orient":"bottom","values":[0.7,0.9,1.1,1.3],"labels":false,"domain":false,"grid":false,"title":null,"tickSize":-5,"tickColor":"#8c8c8c"}},"y":{"field":"y","type":"quantitative","scale":{"domain":[0,624],"reverse":true,"nice":false,"zero":false},"axis":null},"text":{"field":"s"}}},
{"data":{"values":[{"n":"EW","t":1.028,"y":563}]},"mark":{"type":"text","fontSize":30,"fontWeight":"bold","color":"#000","baseline":"middle"},"encoding":{"x":{"field":"t","type":"quantitative","axis":null},"y":{"field":"y","type":"quantitative","axis":null},"text":{"field":"n"}}}
]},
{"width":346,"height":624,"resolve":{"axis":{"x":"independent"}},"layer":[
{"data":{"name":"tr"},"mark":{"type":"line","interpolate":"monotone","strokeWidth":1.3},"encoding":{"x":{"field":"t","type":"quantitative","scale":{"domain":[0.6,1.4],"nice":false,"zero":false},"axis":{"orient":"bottom","values":[0.6,0.8,1,1.2,1.4],"format":"~g","title":"time (sec)","grid":false,"domainColor":"#8c8c8c","tickColor":"#8c8c8c","tickSize":-8,"labelFontSize":15,"labelFontWeight":"bold","labelColor":"#000","labelPadding":16,"labelFlush":false,"labelOverlap":false,"titleFontSize":15,"titleFontWeight":"bold","titleColor":"#000","titlePadding":5}},"y":{"field":"y","type":"quantitative","scale":{"domain":[0,624],"reverse":true,"nice":false,"zero":false},"axis":null},"color":{"field":"c","type":"nominal","scale":{"domain":["b","k"],"range":["#1f1fff","#000000"]},"legend":null},"detail":{"field":"s"}}},
{"data":{"name":"trL"},"mark":{"type":"text","align":"left","baseline":"middle","fontSize":15,"color":"#1f1fff"},"encoding":{"x":{"datum":1.382,"type":"quantitative","scale":{"domain":[0.6,1.4],"nice":false,"zero":false},"axis":{"orient":"bottom","values":[0.7,0.9,1.1,1.3],"labels":false,"domain":false,"grid":false,"title":null,"tickSize":-5,"tickColor":"#8c8c8c"}},"y":{"field":"y","type":"quantitative","scale":{"domain":[0,624],"reverse":true,"nice":false,"zero":false},"axis":null},"text":{"field":"s"}}},
{"data":{"values":[{"n":"Z","t":0.956,"y":568}]},"mark":{"type":"text","fontSize":36,"fontWeight":"bold","color":"#000","baseline":"middle"},"encoding":{"x":{"field":"t","type":"quantitative","axis":null},"y":{"field":"y","type":"quantitative","axis":null},"text":{"field":"n"}}}
]}
],"spacing":36,"bounds":"flush"},
{"hconcat":[
{"width":356,"height":603,"resolve":{"axis":{"x":"independent"}},"layer":[
{"data":{"name":"bl"},"mark":{"type":"line","interpolate":"monotone","strokeWidth":1.3},"encoding":{"x":{"field":"t","type":"quantitative","scale":{"domain":[0.4,1.4],"nice":false,"zero":false},"axis":{"orient":"bottom","values":[0.4,0.6,0.8,1,1.2,1.4],"format":"~g","title":"time (sec)","grid":false,"domainColor":"#8c8c8c","tickColor":"#8c8c8c","tickSize":-8,"labelFontSize":14,"labelFontWeight":"normal","labelColor":"#000","labelPadding":16,"labelFlush":false,"labelOverlap":false,"titleFontSize":16,"titleFontWeight":"bold","titleColor":"#000","titlePadding":6}},"y":{"field":"y","type":"quantitative","scale":{"domain":[0,603],"reverse":true,"nice":false,"zero":false},"axis":null},"color":{"field":"c","type":"nominal","scale":{"domain":["b","k"],"range":["#1f1fff","#000000"]},"legend":null},"detail":{"field":"s"}}},
{"data":{"name":"blL"},"mark":{"type":"text","align":"left","baseline":"middle","fontSize":15,"color":"#1f1fff"},"encoding":{"x":{"datum":1.385,"type":"quantitative","scale":{"domain":[0.4,1.4],"nice":false,"zero":false},"axis":{"orient":"bottom","values":[0.5,0.7,0.9,1.1,1.3],"labels":false,"domain":false,"grid":false,"title":null,"tickSize":-6,"tickColor":"#8c8c8c"}},"y":{"field":"y","type":"quantitative","scale":{"domain":[0,603],"reverse":true,"nice":false,"zero":false},"axis":null},"text":{"field":"s"}}},
{"data":{"values":[{"n":"NS","t":0.889,"y":555}]},"mark":{"type":"text","fontSize":25,"fontWeight":"bold","color":"#000","baseline":"middle"},"encoding":{"x":{"field":"t","type":"quantitative","axis":null},"y":{"field":"y","type":"quantitative","axis":null},"text":{"field":"n"}}}
]},
{"hconcat":[
{"width":356,"height":603,"resolve":{"axis":{"x":"independent"}},"layer":[
{"data":{"name":"bm"},"mark":{"type":"line","interpolate":"monotone","strokeWidth":1.3},"encoding":{"x":{"field":"t","type":"quantitative","scale":{"domain":[0.4,1.4],"nice":false,"zero":false},"axis":{"orient":"bottom","values":[0.4,0.6,0.8,1,1.2,1.4],"format":"~g","title":"time (sec)","grid":false,"domainColor":"#8c8c8c","tickColor":"#8c8c8c","tickSize":-8,"labelFontSize":14,"labelFontWeight":"normal","labelColor":"#000","labelPadding":16,"labelFlush":false,"labelOverlap":false,"titleFontSize":16,"titleFontWeight":"bold","titleColor":"#000","titlePadding":6}},"y":{"field":"y","type":"quantitative","scale":{"domain":[0,603],"reverse":true,"nice":false,"zero":false},"axis":null},"color":{"field":"c","type":"nominal","scale":{"domain":["b","k"],"range":["#1f1fff","#000000"]},"legend":null},"detail":{"field":"s"}}},
{"data":{"name":"bmL"},"mark":{"type":"text","align":"left","baseline":"middle","fontSize":15,"color":"#1f1fff"},"encoding":{"x":{"datum":1.383,"type":"quantitative","scale":{"domain":[0.4,1.4],"nice":false,"zero":false},"axis":{"orient":"bottom","values":[0.5,0.7,0.9,1.1,1.3],"labels":false,"domain":false,"grid":false,"title":null,"tickSize":-6,"tickColor":"#8c8c8c"}},"y":{"field":"y","type":"quantitative","scale":{"domain":[0,603],"reverse":true,"nice":false,"zero":false},"axis":null},"text":{"field":"s"}}},
{"data":{"values":[{"n":"EW","t":0.942,"y":549}]},"mark":{"type":"text","fontSize":25,"fontWeight":"bold","color":"#000","baseline":"middle"},"encoding":{"x":{"field":"t","type":"quantitative","axis":null},"y":{"field":"y","type":"quantitative","axis":null},"text":{"field":"n"}}}
]},
{"width":356,"height":603,"resolve":{"axis":{"x":"independent"}},"layer":[
{"data":{"name":"br"},"mark":{"type":"line","interpolate":"monotone","strokeWidth":1.3},"encoding":{"x":{"field":"t","type":"quantitative","scale":{"domain":[0.4,1.4],"nice":false,"zero":false},"axis":{"orient":"bottom","values":[0.4,0.6,0.8,1,1.2,1.4],"format":"~g","title":"time (sec)","grid":false,"domainColor":"#8c8c8c","tickColor":"#8c8c8c","tickSize":-8,"labelFontSize":14,"labelFontWeight":"normal","labelColor":"#000","labelPadding":16,"labelFlush":false,"labelOverlap":false,"titleFontSize":16,"titleFontWeight":"bold","titleColor":"#000","titlePadding":6}},"y":{"field":"y","type":"quantitative","scale":{"domain":[0,603],"reverse":true,"nice":false,"zero":false},"axis":null},"color":{"field":"c","type":"nominal","scale":{"domain":["b","k"],"range":["#1f1fff","#000000"]},"legend":null},"detail":{"field":"s"}}},
{"data":{"name":"brL"},"mark":{"type":"text","align":"left","baseline":"middle","fontSize":15,"color":"#1f1fff"},"encoding":{"x":{"datum":1.382,"type":"quantitative","scale":{"domain":[0.4,1.4],"nice":false,"zero":false},"axis":{"orient":"bottom","values":[0.5,0.7,0.9,1.1,1.3],"labels":false,"domain":false,"grid":false,"title":null,"tickSize":-6,"tickColor":"#8c8c8c"}},"y":{"field":"y","type":"quantitative","scale":{"domain":[0,603],"reverse":true,"nice":false,"zero":false},"axis":null},"text":{"field":"s"}}},
{"data":{"values":[{"n":"Z","t":0.984,"y":549}]},"mark":{"type":"text","fontSize":25,"fontWeight":"bold","color":"#000","baseline":"middle"},"encoding":{"x":{"field":"t","type":"quantitative","axis":null},"y":{"field":"y","type":"quantitative","axis":null},"text":{"field":"n"}}}
]}
],"spacing":25,"bounds":"flush"}
],"spacing":19,"bounds":"flush"}
]
}
